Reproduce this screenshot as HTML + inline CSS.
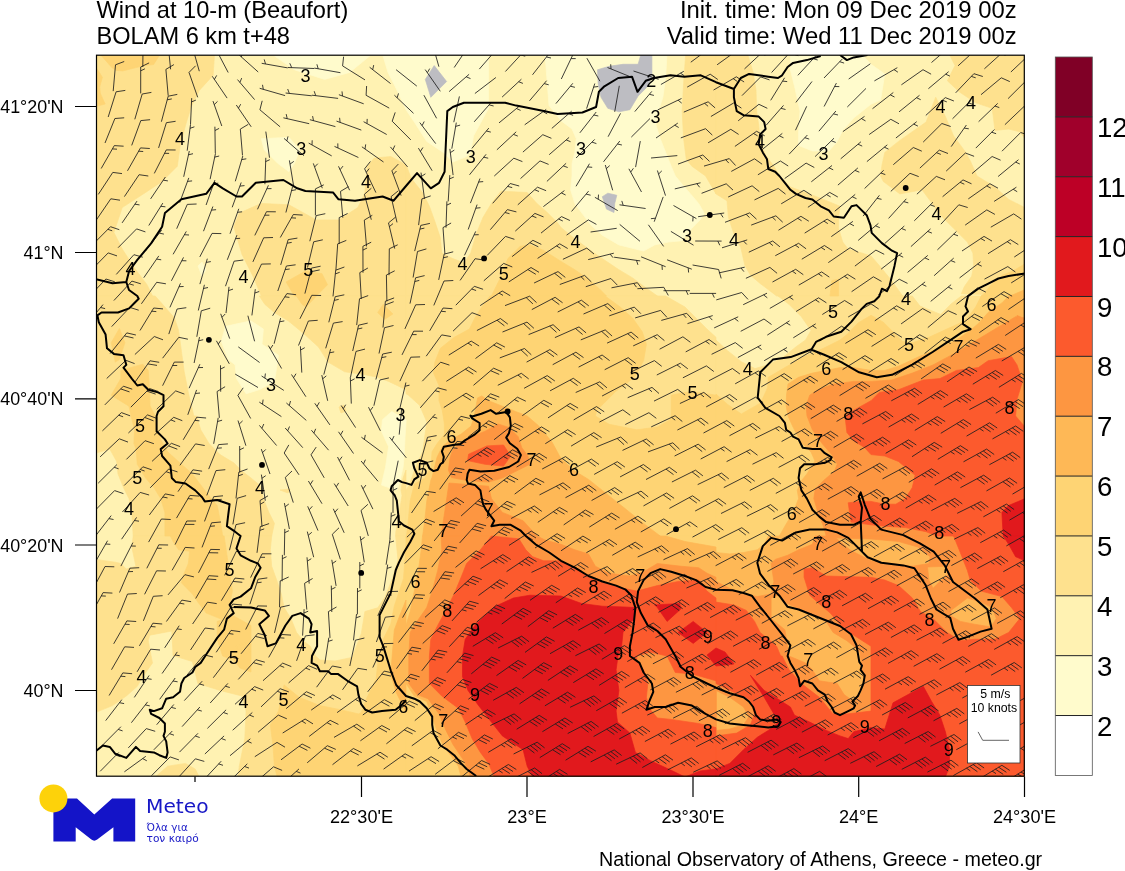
<!DOCTYPE html><html><head><meta charset="utf-8"><title>Wind at 10-m (Beaufort)</title>
<style>html,body{margin:0;padding:0;background:#fff;width:1125px;height:871px;overflow:hidden}svg{display:block;font-family:"Liberation Sans",Arial,Helvetica,sans-serif}</style></head><body>
<svg width="1125" height="871" viewBox="0 0 1125 871">
<defs><clipPath id="mc"><rect x="96.5" y="55.2" width="927.8" height="721"/></clipPath></defs>
<g font-size="23.6" fill="#000" id="ttl">
<text x="96.5" y="17.8">Wind at 10-m (Beaufort)</text>
<text x="96.5" y="44">BOLAM 6 km t+48</text>
<text x="1016.6" y="17.8" text-anchor="end" font-size="23.85">Init. time: Mon 09 Dec 2019 00z</text>
<text x="1016.6" y="44" text-anchor="end" font-size="23.85">Valid time: Wed 11 Dec 2019 00z</text>
</g>
<g clip-path="url(#mc)">
<rect x="96.5" y="55.2" width="927.8" height="721" fill="#fff2b2"/>
<path fill="#fffbcc" stroke="#fffbcc" stroke-width="0.7" stroke-linejoin="round" d="M371.6,54.5L349.5,72.5L324.7,79.4L294.4,69.8L272.4,54.5ZM382.6,54.5L488.6,54.5L488.6,108.3L473.5,135.9L470.7,152.4L466.6,156.6L452.8,162.1L443.2,152.4L426.7,141.4L414.3,122.1L406.0,109.7L396.4,89.0L388.0,72.5ZM261.3,138.7L288.9,137.3L299.9,149.7L294.4,163.5L288.9,171.7L277.9,163.5L264.1,149.7ZM198.0,266.0L202.0,262.0L206.0,270.0L202.0,276.0ZM667.0,54.5L665.7,76.7L662.9,97.3L657.4,113.9L656.0,124.9L660.2,138.6L665.7,152.4L671.2,166.2L675.3,176.0L682.2,184.3L690.5,193.9L698.7,203.5L704.3,213.2L700.1,220.0L691.9,228.3L682.2,240.7L668.4,242.1L654.7,244.9L643.6,251.1L618.9,244.9L602.3,235.2L591.3,225.6L583.0,214.6L574.8,203.5L570.6,189.8L572.0,176.0L572.0,163.5L574.8,152.4L576.2,138.6L572.0,129.0L561.0,120.7L549.0,105.6L545.0,54.5ZM790.4,54.5L862.0,54.5L871.0,64.3L884.8,73.9L880.6,100.1L871.0,104.2L867.5,107.0L853.7,118.0L842.7,130.4L837.2,141.4L829.0,151.0L812.4,151.0L798.6,145.5L798.6,131.8L800.0,111.1L794.5,86.3L790.4,69.8ZM225.5,326.3L251.0,320.8L263.4,329.1L262.0,344.2L278.5,355.2L275.8,373.1L274.4,381.4L259.3,389.7L246.1,393.8L236.5,378.6L235.1,364.9L228.2,359.4L221.3,341.5ZM382.4,419.8L391.7,411.5L406.2,419.8L405.1,436.3L404.1,457.0L403.1,467.3L398.9,485.0L397.0,490.0L390.0,488.0L381.4,485.0L385.5,467.3L388.6,446.7L381.4,431.2Z"/>
<path fill="#fee18e" stroke="#fee18e" stroke-width="0.7" stroke-linejoin="round" d="M95.5,54.5L214.5,54.5L213.1,75.3L199.3,90.4L191.1,107.0L185.6,124.9L180.0,146.9L177.3,166.2L162.1,181.4L145.6,192.4L122.2,207.6L113.9,232.4L122.2,248.9L134.6,268.2L147.0,284.7L152.5,296.0L95.5,296.0ZM233.8,226.8L239.3,213.1L261.3,203.4L288.9,204.8L316.4,220.0L338.5,220.0L357.8,207.6L364.7,193.8L367.4,166.2L374.3,158.0L390.9,156.6L406.0,164.8L406.0,296.0L261.3,296.0L253.1,276.4L242.0,254.4ZM685.7,54.5L716.0,54.5L716.0,193.9L705.6,176.0L691.9,166.2L686.3,159.3L683.6,138.6L682.2,111.0L683.6,83.5ZM406.0,164.8L411.5,178.8L422.5,192.5L429.4,206.3L434.9,221.5L440.4,238.0L441.8,253.1L452.8,258.6L463.9,262.8L470.7,253.1L476.2,233.9L483.1,217.3L491.4,203.5L501.0,191.2L527.2,192.5L536.9,203.5L546.5,211.8L557.5,222.8L561.0,227.5L572.0,236.6L588.5,249.0L602.3,258.6L618.9,269.7L632.6,277.9L643.6,286.2L657.4,296.0L406.0,296.0ZM716.0,54.5L747.7,54.5L753.2,72.5L756.0,90.4L756.6,111.1L758.7,124.9L760.1,141.4L765.6,155.2L773.9,166.2L779.4,176.0L790.4,187.0L805.5,192.5L823.4,199.4L840.0,206.3L838.6,217.3L838.6,228.3L842.7,242.1L848.2,249.0L862.0,253.1L871.0,255.9L879.3,265.5L891.7,280.7L902.7,296.0L776.6,296.0L771.1,291.7L760.1,283.4L750.4,275.2L744.9,265.5L740.8,247.6L733.9,233.9L728.4,217.3L727.0,200.8L716.0,193.9ZM1025.0,54.5L1025.0,138.6L1019.8,131.8L1008.7,129.0L995.0,130.4L992.2,108.3L975.7,102.8L959.2,91.8L947.4,80.8L955.0,65.6L949.5,54.5ZM884.8,152.4L898.5,141.4L926.1,122.1L935.7,97.3L945.4,116.6L953.6,135.9L964.7,151.0L970.2,160.7L977.0,176.0L995.0,187.0L1008.7,199.4L1025.0,207.7L1025.0,296.0L961.3,293.7L964.4,286.5L971.7,276.2L973.7,265.8L972.9,253.1L967.4,242.1L953.6,228.3L939.9,214.6L930.2,200.8L922.0,189.8L899.9,193.9L894.4,189.8L883.4,181.5L880.6,176.0L882.0,165.0ZM95.5,296.0L155.2,296.0L164.9,307.0L174.5,318.0L178.6,330.4L181.4,351.1L184.2,371.8L188.3,392.4L193.8,416.0L196.6,416.0L200.7,429.8L209.0,443.5L220.0,454.6L233.7,462.8L242.0,471.1L251.0,478.0L259.3,484.9L263.4,498.6L268.9,512.4L274.4,523.4L271.7,536.0L133.2,536.0L131.8,512.4L129.0,498.6L123.5,487.6L118.0,473.9L116.7,461.5L109.8,449.1L95.5,453.2ZM259.3,296.0L406.0,296.0L406.0,389.7L388.7,381.4L377.7,377.3L363.9,374.5L344.7,371.8L328.1,362.1L318.5,347.0L303.3,333.2L288.2,320.8L274.4,312.5L264.8,304.3ZM406.0,536.0L395.6,536.0L395.8,531.7L397.9,521.3L402.0,495.5L401.0,490.0L403.0,478.0L406.0,470.0ZM339.0,407.0L344.0,405.0L346.0,411.0L341.0,413.0ZM280.0,490.0L290.0,489.0L288.0,493.0ZM406.0,296.0L665.7,296.0L685.0,307.0L698.7,320.8L707.0,329.1L716.0,337.3L716.0,536.0L406.0,536.0L406.0,490.0L409.3,485.0L415.5,467.3L422.7,451.8L424.8,436.3L426.8,421.9L419.6,405.3L408.2,395.0L406.0,393.8ZM1025.0,296.0L1025.0,536.0L716.0,536.0L716.0,340.1L727.6,350.7L741.3,361.7L755.1,368.6L768.9,364.4L782.7,357.6L796.4,346.5L805.5,340.1L811.0,330.4L801.4,316.7L789.0,304.3L778.0,296.0L912.3,296.0L920.0,306.1L930.3,310.2L940.7,314.4L951.0,304.0L961.3,296.0ZM95.5,559.4L115.3,562.2L120.8,563.5L126.3,569.1L135.9,566.3L131.8,547.0L133.2,536.0L271.7,536.0L270.3,549.8L271.7,566.3L277.2,581.5L281.3,593.9L284.1,607.6L291.0,618.6L296.5,632.4L303.3,640.7L310.2,646.2L315.7,656.0L320.0,660.0L335.0,661.0L352.1,657.4L361.3,633.5L364.9,611.5L377.8,607.8L385.1,596.8L392.5,578.4L398.0,560.0L395.6,536.0L406.0,536.0L406.0,777.0L95.5,777.0ZM406.0,536.0L1025.0,536.0L1025.0,777.0L406.0,777.0ZM95.5,777.0L155.2,777.0L167.6,766.2L185.5,763.4L195.2,769.0L199.3,777.0L237.9,777.0L239.3,766.2L244.8,738.6L246.1,711.1L242.0,696.0L220.0,690.4L197.9,683.5L192.4,661.5L174.5,656.0L173.1,656.0L171.8,631.0L149.7,635.2L148.3,640.7L151.1,656.0L152.5,662.9L142.8,676.7L137.3,686.3L126.3,696.0L112.5,705.6L95.5,712.5Z"/>
<path fill="#fed474" stroke="#fed474" stroke-width="0.7" stroke-linejoin="round" d="M100.3,54.5L160.0,54.5L153.6,64.5L144.0,65.6L122.7,70.9L116.3,70.4L112.0,67.7ZM95.5,68.8L97.0,68.8L102.4,77.3L99.7,86.9L100.3,93.3L105.1,104.0L97.0,106.1L95.5,106.1ZM286.1,282.0L305.4,271.0L322.0,273.7L327.5,284.7L316.4,296.0L306.1,307.0L302.0,304.3L296.5,296.0L294.4,296.0ZM507.9,258.6L520.3,246.2L530.0,244.9L543.7,250.4L561.0,261.4L574.8,269.7L588.5,279.3L599.6,289.0L606.5,296.0L491.4,296.0L499.7,279.3ZM831.7,280.7L838.6,279.0L838.6,296.0L830.0,296.0ZM1025.0,296.0L981.2,296.0L984.0,293.7L992.3,283.4L1002.6,275.1L1013.0,271.0L1025.0,263.8ZM119.4,328.4L124.9,342.8L119.4,359.4L115.3,362.1L111.2,342.8ZM120.8,370.4L142.8,364.2L148.3,370.4L149.7,392.4L150.0,406.0L155.2,416.0L156.6,427.0L160.7,439.4L167.6,451.8L181.4,464.2L192.4,473.9L200.7,484.9L209.0,495.9L217.2,505.5L220.0,519.3L222.7,536.0L164.9,536.0L164.9,512.4L160.7,498.6L153.9,487.6L145.6,478.0L137.3,464.2L136.0,449.1L133.9,443.5L134.6,429.8L131.0,416.0L129.0,406.2L111.2,395.2L120.8,378.6ZM383.2,304.3L392.9,313.9L384.6,319.4L377.7,312.5ZM490.0,296.0L605.1,296.0L620.2,307.0L632.6,318.0L642.3,331.8L646.4,344.2L643.6,360.7L635.4,375.9L625.7,384.2L616.1,391.0L606.5,400.7L596.8,410.3L595.4,416.0L609.2,424.3L636.8,429.8L657.4,427.0L669.8,420.1L671.2,416.0L671.2,395.2L685.0,392.4L698.7,392.4L716.0,395.2L716.0,536.0L406.5,536.0L408.2,521.3L410.2,500.7L414.4,484.0L425.0,478.0L431.0,467.3L432.0,451.8L437.1,443.6L444.4,434.3L444.4,423.9L442.3,410.5L439.0,400.7L439.0,385.5L433.5,373.1L434.9,362.1L440.4,348.3L454.2,337.3L469.4,329.1L474.9,318.0L481.8,307.0ZM716.0,394.0L727.6,404.4L741.3,414.0L760.6,403.0L767.5,387.9L768.3,377.3L784.9,367.6L804.1,356.6L823.4,348.3L840.0,340.1L846.9,334.6L858.0,323.0L871.0,315.3L883.4,322.2L894.4,333.2L902.7,341.5L912.3,342.8L928.9,337.3L946.8,329.1L959.2,323.5L967.4,318.0L975.7,307.0L981.2,296.0L1025.0,296.0L1025.0,536.0L716.0,536.0ZM170.4,536.0L224.1,536.0L228.2,563.5L232.4,591.1L231.0,598.0L228.2,611.8L226.9,621.4L220.0,618.6L206.2,613.1L197.9,602.1L192.4,593.9L181.4,582.8L184.2,573.2L188.3,563.5L189.7,551.2L178.6,549.8L173.1,541.5ZM217.2,621.4L233.7,615.9L251.0,625.5L251.0,672.0L240.0,668.0L233.7,660.0L222.7,656.0L217.2,639.3ZM406.0,777.0L277.2,777.0L274.4,766.2L273.0,745.5L270.3,724.9L278.5,711.1L284.1,684.9L299.2,697.3L319.9,705.6L340.5,709.7L358.4,713.9L361.3,712.6L366.8,697.9L376.0,679.5L378.0,661.0L383.3,639.0L390.7,624.3L394.3,606.0L403.5,578.4L406.0,545.0ZM236.0,646.0L246.0,643.0L250.0,652.0L240.0,655.0ZM406.0,536.0L1025.0,536.0L1025.0,777.0L406.0,777.0Z"/>
<path fill="#feb856" stroke="#feb856" stroke-width="0.7" stroke-linejoin="round" d="M1025.0,296.0L1008.7,296.0L1013.0,294.8L1025.0,289.6ZM477.6,397.9L481.8,395.9L488.6,400.7L502.4,406.2L516.2,411.7L527.2,416.0L538.3,425.5L552.0,442.0L561.0,458.7L574.8,471.1L588.5,479.4L602.3,490.4L616.1,501.4L629.9,512.4L643.6,523.4L660.2,536.0L422.6,536.0L424.7,521.3L426.8,500.7L430.9,480.0L432.0,477.6L437.1,457.0L442.3,446.7L449.5,440.5L460.9,434.3L471.2,426.0L474.3,415.7ZM788.0,384.0L798.6,377.3L812.4,373.1L826.2,370.4L840.0,367.6L853.7,367.6L871.0,370.4L884.8,370.4L898.5,366.2L919.2,356.6L939.9,348.3L956.4,340.1L970.2,330.4L978.4,323.5L988.1,312.5L1001.9,302.9L1008.7,296.0L1025.0,296.0L1025.0,536.0L779.4,536.0L784.9,526.2L793.1,512.4L798.6,498.6L797.3,490.4L801.4,480.7L806.9,473.9L815.0,461.0L811.0,452.0L801.0,442.0L793.0,427.0L788.0,416.0L786.2,406.2L786.5,395.0ZM406.0,712.0L403.5,707.1L396.2,692.4L390.7,674.0L392.5,651.9L394.3,629.9L399.9,615.1L406.0,600.0ZM422.5,536.0L665.7,536.0L685.0,541.5L716.0,547.0L716.0,777.0L461.1,777.0L458.3,766.2L451.5,756.6L443.2,745.5L437.7,733.1L432.2,716.6L426.7,701.5L414.3,696.0L406.0,683.5L406.0,625.5L410.1,611.8L414.3,591.1L418.4,570.4L421.2,549.8ZM768.3,536.0L1025.0,536.0L1025.0,777.0L716.0,777.0L716.0,552.5L729.8,553.9L743.5,552.5L757.3,549.8L764.2,544.3Z"/>
<path fill="#fd9641" stroke="#fd9641" stroke-width="0.7" stroke-linejoin="round" d="M1017.1,315.4L1024.3,318.5L1025.0,330.0L1016.0,326.0ZM450.2,456.9L453.0,449.6L460.3,443.2L471.3,436.7L485.1,431.2L498.0,423.9L509.0,427.5L518.2,436.7L521.8,447.7L528.0,456.0L530.0,464.2L516.2,471.1L502.4,478.0L488.6,482.1L468.0,480.7L451.5,477.6L448.4,470.0ZM449.0,483.0L488.6,486.2L491.4,498.6L502.4,512.4L523.1,520.7L536.9,536.0L441.0,536.0L443.3,521.3L446.4,500.7ZM809.7,395.2L817.9,389.7L833.1,384.2L853.7,381.4L871.0,381.4L891.7,380.0L912.3,373.1L933.0,364.9L953.6,353.9L974.3,341.5L995.0,329.1L1015.6,316.7L1025.0,318.0L1025.0,536.0L826.2,536.0L823.4,526.2L817.9,512.4L813.8,498.6L815.2,489.0L823.4,480.7L834.5,471.1L837.2,464.2L831.7,454.6L822.1,443.5L812.4,429.8L807.0,416.0L806.0,406.0ZM441.0,536.0L537.0,536.0L545.0,540.0L561.0,544.3L574.8,549.8L588.5,553.9L595.4,566.3L609.2,573.2L629.9,576.0L643.6,571.8L657.4,563.5L681.6,566.3L698.7,567.7L707.0,573.2L716.0,577.3L716.0,777.0L470.7,777.0L463.9,760.7L452.8,744.2L446.0,730.4L439.0,713.9L428.0,698.7L417.0,694.6L408.8,683.5L408.8,656.0L410.1,632.4L417.0,621.4L426.7,607.6L432.2,591.1L437.7,570.4L441.8,549.8ZM815.2,536.0L1025.0,536.0L1025.0,777.0L716.0,777.0L716.0,581.5L729.8,588.4L743.5,593.9L757.3,596.6L771.1,593.9L773.9,581.5L771.1,563.5L775.2,559.4L787.6,555.3L798.6,549.8L812.4,544.3ZM850.0,550.0L871.0,560.8L891.7,563.5L912.3,566.3L928.9,563.5L930.2,556.7L917.8,547.0L898.5,541.5L871.0,539.0L836.0,538.0ZM928.9,580.1L933.0,588.3L939.9,581.5L948.1,574.6L945.4,566.3L927.5,567.0ZM771.1,618.6L784.9,629.7L787.6,646.2L789.0,656.0L805.5,662.9L812.4,669.8L819.3,680.8L837.2,683.5L844.1,694.6L853.7,701.5L859.3,697.3L864.8,683.5L862.0,669.8L860.0,652.0L853.7,646.2L846.9,640.7L833.1,632.4L826.2,621.4L805.5,611.8L790.4,604.9L784.9,602.1L778.0,595.2L771.1,598.0ZM950.9,615.9L960.5,621.4L974.3,624.2L990.8,626.9L996.3,618.6L992.2,607.6L981.2,602.1L967.4,598.0L950.9,610.4ZM716.0,730.4L729.8,729.0L743.5,724.9L749.0,716.6L743.5,707.0L729.8,697.3L716.0,690.4Z"/>
<path fill="#fc5a2d" stroke="#fc5a2d" stroke-width="0.7" stroke-linejoin="round" d="M468.6,454.2L486.9,445.9L503.5,445.0L510.8,456.0L503.5,466.1L485.1,464.3L467.6,460.6ZM845.0,416.0L853.7,410.3L871.0,400.7L879.3,392.4L898.5,389.7L923.3,380.0L939.9,378.6L956.4,370.4L978.4,367.6L988.1,360.7L1011.5,356.6L1017.0,364.9L1022.5,381.4L1017.0,399.3L1015.6,416.0L1025.0,427.0L1025.0,536.0L937.1,536.0L926.1,531.7L905.4,527.6L884.8,526.2L871.0,524.8L851.0,522.1L848.2,502.8L860.6,501.4L871.0,501.4L884.8,504.2L895.8,504.2L905.4,498.6L912.3,487.6L915.1,475.2L898.5,461.5L884.8,456.0L871.0,454.6L864.8,447.7L853.7,440.8L846.9,432.5ZM491.4,536.0L518.9,538.8L525.8,549.8L532.7,556.7L543.7,560.8L561.0,560.8L574.8,567.7L588.5,577.3L602.3,582.8L623.0,588.3L636.8,591.1L657.4,585.6L678.1,581.5L698.7,580.1L707.0,591.1L716.0,598.0L716.0,680.8L691.9,673.9L675.3,672.5L667.1,656.0L650.0,652.0L636.8,656.0L636.8,660.1L643.6,669.8L647.8,683.5L646.4,697.3L649.2,708.3L657.4,718.0L671.2,719.4L698.7,723.5L716.0,727.6L716.0,777.0L494.2,777.0L488.6,763.4L480.4,752.4L472.1,738.6L465.2,722.1L458.3,708.3L441.8,696.0L429.4,683.5L429.4,656.0L430.8,639.3L437.7,625.5L447.3,607.6L454.2,593.9L461.1,577.3L466.6,563.5L480.4,549.8ZM953.6,536.0L1025.0,536.0L1025.0,777.0L716.0,777.0L716.0,735.9L736.7,733.1L750.4,724.9L754.6,713.9L750.4,700.1L729.8,690.4L716.0,683.5L716.0,602.1L733.9,604.9L746.3,610.4L754.6,621.4L760.1,632.4L776.6,646.2L780.7,656.0L782.1,656.0L789.0,669.8L801.4,683.5L819.3,697.3L833.1,713.9L846.9,713.9L871.0,711.1L871.0,646.2L853.7,635.2L840.0,624.2L830.3,613.1L820.7,604.9L809.7,595.2L804.1,577.3L804.1,569.1L812.4,567.7L826.2,576.0L871.0,577.3L884.8,580.1L898.5,585.6L912.3,598.0L920.6,611.8L933.0,618.6L946.8,632.4L960.5,640.7L974.3,639.3L995.0,639.3L1008.7,632.4L1019.8,618.6L1011.5,607.6L1001.9,596.6L981.2,591.1L970.2,580.1L967.4,570.4L959.2,549.8Z"/>
<path fill="#e1191d" stroke="#e1191d" stroke-width="0.7" stroke-linejoin="round" d="M1001.9,512.4L1008.7,505.5L1025.0,498.6L1025.0,536.0L1003.2,536.0ZM462.5,656.0L465.2,639.3L474.9,625.5L483.1,617.3L495.5,606.2L513.4,598.0L530.0,595.2L561.0,596.0L581.7,603.5L602.3,606.2L623.0,606.9L635.4,607.6L634.0,618.6L623.0,632.4L621.6,646.2L618.0,656.0L616.1,669.8L618.9,690.4L616.1,711.1L617.5,722.1L629.9,733.1L635.4,752.4L650.5,760.7L671.2,770.3L685.0,777.0L532.7,777.0L527.2,766.2L523.1,749.7L502.4,735.9L491.4,722.1L477.6,704.2L468.0,690.4L462.5,676.7ZM654.7,604.9L679.5,603.5L680.8,609.0L667.1,621.4L657.4,607.6ZM678.1,632.4L693.2,621.4L707.0,632.4L693.2,643.4ZM707.0,655.0L716.0,648.0L725.0,652.0L734.0,664.0L716.0,666.0ZM1003.2,536.0L1025.0,536.0L1025.0,560.8L1015.6,556.7L1008.7,544.3ZM750.4,675.3L764.2,690.4L775.2,697.3L790.4,707.0L794.5,715.2L809.7,722.1L826.2,730.4L840.0,735.9L848.2,738.6L853.7,731.8L864.8,729.0L871.0,727.6L884.8,729.0L893.0,702.8L923.3,686.3L931.6,701.5L939.9,715.2L945.4,731.8L949.5,749.7L949.5,766.2L945.4,777.0L716.0,777.0L716.0,768.9L729.8,763.4L743.5,749.7L757.3,737.3L768.3,730.4L779.4,722.1L773.9,713.9L764.2,697.3ZM685.0,777.0L700.0,771.0L716.0,768.9L716.0,777.0Z"/>
<path fill="#bdbdc2" stroke="#bdbdc2" stroke-width="0.7" stroke-linejoin="round" d="M434.2,65.6L446.6,81.5L430.8,97.3L425.3,79.4ZM597.5,69.8L609.2,66.3L623.0,64.3L638.1,64.3L640.9,54.5L651.9,54.5L651.9,76.7L646.4,87.7L638.1,96.0L629.9,109.7L618.9,111.8L607.8,108.3L601.0,97.3L598.2,83.5ZM602.3,196.7L607.8,193.2L616.8,195.3L614.7,203.5L614.0,212.5L606.5,209.1Z"/>
<path fill="none" stroke="#1e1e1e" stroke-width="0.85" stroke-linecap="butt" d="M931.5,62.5L951.5,45.3M951.5,45.3l8.5,3.7M958.1,65.8L977.6,48.0M977.6,48.0l8.7,3.4M984.4,68.8L1004.0,51.1M1004.0,51.1l8.6,3.5M1001.2,53.6l4.3,1.7M1010.9,72.0L1030.1,53.9M1030.1,53.9l8.7,3.3M690.8,62.2L712.1,46.4M709.0,48.7l4.1,2.1M717.1,64.8L738.5,49.4M738.5,49.4l8.2,4.4M744.5,68.9L763.8,50.9M761.0,53.5l4.3,1.7M771.6,72.5L789.4,53.0M789.4,53.0l8.9,2.6M797.9,75.3L815.8,55.9M813.2,58.7l4.5,1.3M824.0,78.0L842.3,59.0M839.7,61.7l4.4,1.4M848.7,79.0L870.3,63.8M874.4,80.9L897.3,67.7M894.0,69.6l3.9,2.6M901.4,84.8L923.0,69.7M923.0,69.7l8.1,4.5M928.4,88.7L948.6,71.7M945.7,74.2l4.2,1.9M955.7,92.8L973.9,73.7M973.9,73.7l8.9,2.8M971.3,76.4l4.4,1.4M981.0,94.7L1001.3,77.8M1001.3,77.8l8.5,3.8M1008.1,98.6L1026.8,80.0M1026.8,80.0l8.8,3.0M1024.1,82.6l4.4,1.5M438.9,66.7L431.7,41.3M432.7,45.0l3.5,-3.1M454.2,67.5L469.0,45.7M466.9,48.8l4.6,0.7M479.3,69.1L496.7,49.2M505.4,71.5L523.3,52.1M520.7,54.9l4.5,1.3M532.5,74.8L548.8,54.0M546.5,57.0l4.5,1.0M561.3,79.0L572.7,55.1M571.1,58.6l4.6,-0.0M599.9,81.2L586.9,58.2M631.9,77.4L607.5,67.5M611.0,68.9l-0.3,-4.6M658.6,79.3L633.5,71.0M660.9,84.5L683.8,71.3M680.5,73.2l3.9,2.6M687.2,87.1L710.2,74.2M710.2,74.2l7.6,5.3M713.6,90.0L736.4,76.8M736.4,76.8l7.7,5.2M733.2,78.7l3.9,2.6M742.0,95.6L760.7,76.9M760.7,76.9l8.8,3.0M770.7,100.3L784.6,77.8M782.6,81.1l4.6,0.5M795.9,102.4L812.0,81.5M824.1,106.5L836.4,83.1M834.7,86.5l4.6,0.1M847.3,107.0L866.0,88.4M872.5,108.7L893.3,92.5M890.3,94.9l4.2,2.1M899.0,111.9L919.5,95.3M916.5,97.7l4.2,2.0M925.8,115.4L945.3,97.6M945.3,97.6l8.6,3.4M942.5,100.2l4.3,1.7M952.5,118.8L971.2,100.2M968.5,102.9l4.4,1.5M978.6,121.7L997.7,103.4M994.9,106.0l4.4,1.6M1004.9,124.7L1024.0,106.5M1024.0,106.5l8.7,3.2M142.8,67.0L143.1,40.6M143.1,44.4l4.2,-2.0M170.6,69.3L168.0,43.0M168.0,43.0l7.9,-4.9M168.4,46.8l4.0,-2.4M199.3,71.2L192.1,45.8M192.1,45.8l6.9,-6.2M228.2,72.5L215.9,49.1M215.9,49.1l5.5,-7.5M258.2,72.0L238.5,54.4M241.4,56.9l1.3,-4.5M287.7,67.9L261.7,63.3M265.5,63.9l-1.3,-4.5M314.3,68.5L287.9,67.5M291.7,67.6l-1.9,-4.3M340.4,72.7L314.4,68.1M318.2,68.8l-1.3,-4.5M365.0,79.9L342.6,65.9M342.6,65.9l1.0,-9.2M390.5,83.5L369.7,67.3M372.7,69.6l1.0,-4.5M416.8,86.1L396.1,69.7M440.3,91.3L425.2,69.6M427.4,72.7l2.3,-4.1M449.1,91.6L469.1,74.3M466.2,76.8l4.3,1.8M474.9,93.5L495.9,77.5M502.1,97.1L521.4,79.2M518.6,81.7l4.3,1.7M529.5,100.8L546.6,80.7M544.2,83.6l4.5,1.2M555.9,103.6L572.8,83.3M570.4,86.2l4.5,1.1M586.6,108.6L594.8,83.5M593.6,87.1l4.6,-0.6M614.7,111.8L619.3,85.8M634.8,111.6L651.8,91.4M649.4,94.3l4.5,1.1M657.7,109.9L681.5,98.5M678.1,100.2l3.6,2.9M683.8,112.1L708.1,101.8M708.1,101.8l7.0,6.1M704.6,103.3l3.5,3.0M710.9,116.5L733.6,103.0M733.6,103.0l7.8,5.1M738.2,120.8L758.9,104.3M758.9,104.3l8.4,4.0M766.1,125.3L783.5,105.4M781.0,108.3l4.5,1.2M795.5,130.2L806.7,106.3M818.9,131.2L835.9,111.0M833.5,113.9l4.5,1.1M842.9,131.6L864.5,116.4M861.4,118.6l4.1,2.3M869.2,134.5L890.8,119.3M890.8,119.3l8.2,4.5M895.9,138.0L916.7,121.7M913.7,124.1l4.2,2.0M923.2,142.1L941.9,123.5M941.9,123.5l8.8,3.0M951.2,146.6L966.4,125.0M964.2,128.1l4.6,0.7M975.8,148.1L994.4,129.5M991.7,132.2l4.4,1.5M1002.0,151.2L1020.7,132.5M1020.7,132.5l8.8,3.0M113.2,91.1L115.5,64.8M115.5,64.8l8.7,-3.3M140.7,93.4L140.7,67.0M140.7,67.0l8.4,-4.1M140.7,70.8l4.2,-2.0M168.2,95.7L165.9,69.4M165.9,69.4l8.0,-4.8M197.7,97.3L189.0,72.4M189.0,72.4l6.6,-6.6M227.1,98.1L212.3,76.3M214.4,79.4l2.3,-4.0M254.6,99.6L237.5,79.6M239.9,82.4l1.8,-4.3M285.1,95.6L259.7,88.3M263.3,89.4l-0.8,-4.6M311.8,95.8L285.6,93.0M289.3,93.4l-1.6,-4.4M338.1,98.4L311.9,95.2M315.7,95.6l-1.5,-4.4M363.7,103.8L338.9,94.7M342.5,96.0l-0.5,-4.6M389.2,108.1L366.1,95.3M366.1,95.3l0.5,-9.3M413.5,113.3L394.4,95.2M397.1,97.8l1.4,-4.4M436.6,118.3L423.9,95.2M453.8,122.2L459.4,96.4M474.2,121.8L491.6,102.0M489.1,104.8l4.5,1.2M499.0,122.9L519.4,106.1M516.4,108.5l4.2,1.9M524.7,124.8L546.2,109.4M543.1,111.7l4.1,2.2M551.8,128.4L571.7,111.1M568.8,113.6l4.3,1.8M579.9,132.8L596.2,112.0M593.8,115.0l4.5,1.0M608.1,136.7L620.5,113.4M631.3,137.1L650.0,118.5M656.0,138.0L677.8,123.1M674.7,125.2l4.0,2.3M680.8,137.9L705.6,128.7M705.6,128.7l6.7,6.4M708.1,142.8L730.8,129.3M730.8,129.3l7.8,5.1M734.9,146.4L756.6,131.3M756.6,131.3l8.1,4.5M753.5,133.5l4.1,2.3M761.7,149.9L782.3,133.4M779.3,135.8l4.2,2.0M789.2,154.1L807.4,135.0M804.8,137.7l4.4,1.4M815.1,156.6L834.0,138.2M831.3,140.8l4.4,1.6M840.7,158.8L860.9,141.8M858.0,144.2l4.2,1.9M866.9,161.6L887.3,144.8M884.3,147.2l4.2,1.9M893.3,164.7L913.3,147.5M913.3,147.5l8.5,3.7M919.9,168.1L939.3,150.1M939.3,150.1l8.7,3.4M936.5,152.7l4.3,1.7M946.2,171.1L965.4,153.0M965.4,153.0l8.7,3.3M972.0,173.6L992.1,156.5M992.1,156.5l8.5,3.7M998.1,176.5L1018.5,159.7M1015.6,162.1l4.2,1.9M108.2,117.0L116.1,91.8M116.1,91.8l9.2,-1.4M134.8,119.3L142.2,94.0M142.2,94.0l9.2,-1.6M161.4,121.7L168.2,96.2M168.2,96.2l9.1,-1.8M167.2,99.8l4.6,-0.9M190.5,124.4L191.7,98.1M191.6,101.9l4.3,-1.8M221.8,126.0L213.0,101.1M214.2,104.7l3.3,-3.3M251.2,126.8L236.3,105.0M238.4,108.2l2.3,-4.0M280.1,126.8L259.9,109.8M259.9,109.8l2.3,-9.0M309.2,123.7L283.4,117.8M287.2,118.6l-1.0,-4.5M335.4,126.6L309.9,119.7M313.5,120.7l-0.9,-4.6M361.3,130.1L336.5,121.1M340.1,122.4l-0.5,-4.6M386.7,134.5L363.6,121.7M367.0,123.5l0.2,-4.6M410.8,139.9L392.2,121.2M392.2,121.2l3.0,-8.8M435.7,143.6L419.8,122.6M422.1,125.6l2.1,-4.1M451.8,148.7L456.3,122.6M455.6,126.4l4.5,-1.3M471.9,148.4L488.8,128.1M486.3,131.0l4.5,1.1M496.9,149.8L516.2,131.8M513.5,134.4l4.3,1.7M522.9,152.1L542.8,134.7M542.8,134.7l8.6,3.6M549.2,154.7L569.1,137.4M566.2,139.9l4.3,1.8M576.1,158.0L594.7,139.4M592.0,142.1l4.4,1.5M603.5,161.8L619.8,141.0M617.4,144.0l4.5,1.0M635.6,167.1L640.3,141.1M651.0,158.0L677.3,155.6M678.0,164.1L702.8,155.0M702.8,155.0l6.7,6.4M699.3,156.3l3.4,3.2M704.0,166.1L729.3,158.6M729.3,158.6l6.3,6.9M725.7,159.7l3.1,3.4M731.3,171.4L754.5,158.8M754.5,158.8l7.6,5.4M757.9,174.8L780.4,161.0M780.4,161.0l7.8,5.0M784.7,178.5L806.1,163.1M806.1,163.1l8.2,4.4M811.3,181.8L832.0,165.5M829.0,167.8l4.2,2.0M837.9,185.1L857.9,167.9M855.0,170.4l4.3,1.8M864.6,188.5L883.7,170.3M880.9,173.0l4.4,1.6M890.8,191.4L910.0,173.3M910.0,173.3l8.7,3.3M916.9,194.2L936.3,176.4M936.3,176.4l8.7,3.4M942.6,196.7L963.0,179.9M963.0,179.9l8.5,3.9M960.1,182.3l4.2,1.9M968.3,198.9L989.9,183.7M989.9,183.7l8.1,4.5M986.7,185.9l4.1,2.2M994.1,201.4L1016.4,187.2M1013.2,189.3l4.0,2.4M105.0,143.0L114.9,118.5M114.9,118.5l9.3,-0.7M131.7,145.4L140.8,120.6M140.8,120.6l9.3,-0.9M158.6,147.9L166.4,122.7M166.4,122.7l9.2,-1.4M187.2,150.7L190.5,124.5M190.0,128.3l4.4,-1.5M215.3,153.1L214.9,126.7M215.0,130.5l4.1,-2.1M242.5,155.4L240.3,129.1M240.3,129.1l8.0,-4.8M269.5,157.7L265.8,131.6M303.9,155.7L284.0,138.4M286.8,140.9l1.2,-4.5M331.7,155.9L308.7,143.1M312.0,144.9l0.2,-4.6M358.4,157.5L334.5,146.4M337.9,148.0l-0.1,-4.6M383.5,162.0L361.9,146.8M365.0,149.0l0.7,-4.6M407.6,166.9L390.4,146.9M392.9,149.8l1.9,-4.3M432.1,170.7L418.4,148.1M420.4,151.4l2.5,-3.9M453.1,175.1L449.9,148.9M450.4,152.6l3.9,-2.5M469.5,174.8L486.1,154.3M483.7,157.2l4.5,1.0M494.3,176.0L513.8,158.2M513.8,158.2l8.6,3.4M520.5,178.6L540.0,160.9M540.0,160.9l8.6,3.5M546.9,181.4L566.1,163.3M563.3,165.9l4.4,1.6M576.0,186.3L589.5,163.7M587.6,166.9l4.6,0.4M612.7,190.3L605.3,165.0M606.3,168.7l3.4,-3.1M641.5,192.0L628.9,168.8M630.7,172.1l2.7,-3.8M665.5,195.6L657.4,170.5M658.5,174.1l3.3,-3.2M674.8,188.9L700.5,182.8M696.8,183.7l2.9,3.6M701.6,193.3L726.2,183.8M726.2,183.8l6.8,6.3M728.2,197.0L752.1,185.8M752.1,185.8l7.2,5.8M754.5,199.9L778.2,188.4M778.2,188.4l7.3,5.7M781.2,203.8L803.9,190.3M803.9,190.3l7.8,5.1M807.9,207.3L829.7,192.4M829.7,192.4l8.1,4.6M826.6,194.6l4.0,2.3M834.8,211.2L855.2,194.4M852.3,196.8l4.2,1.9M863.1,216.1L879.4,195.3M877.0,198.3l4.5,1.0M888.6,218.4L906.3,198.8M903.8,201.6l4.5,1.3M914.3,220.8L933.0,202.2M930.3,204.9l4.4,1.5M940.9,224.2L958.8,204.8M958.8,204.8l8.9,2.7M965.2,225.1L986.8,209.9M986.8,209.9l8.1,4.5M990.8,227.2L1013.7,213.9M1013.7,213.9l7.7,5.2M101.2,168.5L114.3,145.6M114.3,145.6l9.3,0.6M112.4,148.9l4.6,0.3M127.5,170.8L140.5,147.9M140.5,147.9l9.3,0.6M138.6,151.2l4.6,0.3M154.3,173.4L166.3,149.9M166.3,149.9l9.3,0.1M164.5,153.3l4.6,0.1M183.7,176.8L189.3,151.0M188.5,154.8l4.5,-1.1M210.1,179.2L215.5,153.3M214.7,157.1l4.5,-1.1M235.3,181.3L242.8,156.0M241.7,159.6l4.6,-0.8M264.9,184.2L265.8,157.8M265.6,161.6l4.2,-1.9M293.7,186.4L289.4,160.4M290.0,164.1l3.8,-2.7M322.3,188.2L313.3,163.4M314.6,167.0l3.2,-3.3M349.6,190.2L338.5,166.3M340.1,169.7l2.9,-3.6M375.9,192.6L364.6,168.8M364.6,168.8l5.8,-7.3M366.3,172.2l2.9,-3.6M401.1,195.6L391.9,170.8M391.9,170.8l6.4,-6.7M393.3,174.4l3.2,-3.4M424.5,198.8L421.0,172.6M421.5,176.4l3.9,-2.6M448.2,201.4L449.8,175.1M449.5,178.9l4.3,-1.8M470.4,203.1L480.0,178.5M478.6,182.0l4.6,-0.4M492.7,203.3L510.2,183.5M510.2,183.5l9.0,2.5M507.7,186.4l4.5,1.2M517.8,204.8L537.5,187.2M537.5,187.2l8.6,3.5M534.7,189.7l4.3,1.8M543.4,206.6L564.4,190.6M561.4,192.9l4.2,2.1M571.6,211.4L588.6,191.1M586.1,194.1l4.5,1.1M617.7,210.6L594.9,197.3M598.2,199.2l0.3,-4.6M645.6,208.5L619.5,204.8M623.2,205.3l-1.4,-4.4M663.2,196.9L654.2,221.7M655.5,218.2l-4.6,0.5M673.5,205.5L696.4,218.6M693.1,216.8l-0.3,4.6M698.1,216.7L724.2,213.0M720.5,213.5l2.6,3.9M725.0,222.3L749.7,212.9M749.7,212.9l6.8,6.3M746.1,214.3l3.4,3.2M751.2,225.1L775.9,215.8M775.9,215.8l6.8,6.4M772.3,217.1l3.4,3.2M778.5,230.2L800.9,216.3M800.9,216.3l7.9,4.9M797.7,218.3l3.9,2.5M804.7,233.1L827.1,219.1M827.1,219.1l7.9,4.9M823.9,221.1l3.9,2.5M831.3,236.6L852.9,221.4M849.8,223.6l4.1,2.2M858.2,240.4L878.4,223.4M875.5,225.8l4.3,1.9M884.7,243.6L904.3,226.0M901.5,228.5l4.3,1.7M910.9,246.6L930.5,228.9M927.6,231.4l4.3,1.7M937.4,249.9L956.4,231.5M953.6,234.2l4.4,1.6M962.0,251.0L984.0,236.4M984.0,236.4l8.0,4.7M980.9,238.5l4.0,2.3M988.0,253.7L1010.4,239.7M1010.4,239.7l7.9,4.9M1007.2,241.7l3.9,2.5M1014.3,257.0L1036.4,242.5M1033.2,244.6l4.0,2.4M98.3,194.4L112.8,172.4M112.8,172.4l9.2,1.2M124.4,196.6L139.1,174.7M139.1,174.7l9.2,1.3M150.6,198.9L165.4,177.0M163.3,180.2l4.6,0.7M179.7,202.6L188.8,177.9M187.5,181.4l4.6,-0.5M206.1,205.0L214.9,180.1M213.7,183.7l4.6,-0.5M232.2,207.3L241.2,182.5M239.9,186.1l4.6,-0.5M257.5,209.3L268.4,185.3M266.9,188.7l4.6,-0.1M285.9,212.5L292.5,186.9M291.5,190.6l4.6,-0.9M315.4,215.3L315.4,188.9M315.4,188.9l8.4,-4.1M342.8,217.7L340.5,191.4M340.5,191.4l8.0,-4.8M371.3,219.7L364.4,194.3M364.4,194.3l7.0,-6.1M397.0,222.4L391.1,196.6M391.1,196.6l7.2,-5.8M418.6,225.1L421.9,198.9M421.9,198.9l8.8,-3.0M446.0,227.7L446.9,201.3M446.8,205.1l4.2,-1.9M468.2,229.5L477.1,204.6M475.8,208.2l4.6,-0.5M490.3,229.7L507.4,209.6M507.4,209.6l9.0,2.3M505.0,212.5l4.5,1.2M515.3,231.1L534.9,213.4M534.9,213.4l8.6,3.5M532.1,216.0l4.3,1.7M541.0,233.1L561.5,216.6M561.5,216.6l8.4,3.9M558.6,219.0l4.2,2.0M566.6,235.1L588.3,219.9M588.3,219.9l8.1,4.5M590.6,232.0L616.7,228.3M619.7,224.4L640.0,241.3M648.4,224.8L663.6,246.4M670.9,231.4L693.5,245.2M695.2,241.0L721.6,241.1M717.8,241.1l2.0,4.2M722.0,247.8L747.2,239.9M743.5,241.0l3.2,3.4M748.8,252.2L772.7,241.0M772.7,241.0l7.2,5.8M769.3,242.7l3.6,2.9M775.3,255.7L798.6,243.3M798.6,243.3l7.5,5.5M795.2,245.0l3.8,2.7M801.8,259.2L824.4,245.5M824.4,245.5l7.8,5.0M821.1,247.4l3.9,2.5M828.3,262.6L850.1,247.7M850.1,247.7l8.1,4.6M854.9,266.1L875.9,250.1M875.9,250.1l8.3,4.2M881.2,269.1L902.0,252.9M899.0,255.2l4.2,2.0M907.6,272.4L927.8,255.4M924.9,257.9l4.2,1.9M934.1,275.7L953.7,258.1M950.9,260.6l4.3,1.7M959.6,277.9L980.5,261.8M977.5,264.1l4.2,2.1M984.5,279.1L1007.8,266.6M1007.8,266.6l7.6,5.4M1011.2,282.9L1033.5,268.9M1033.5,268.9l7.9,4.9M1030.3,270.9l7.9,4.9M95.9,220.6L110.8,198.8M110.8,198.8l9.2,1.4M122.1,222.9L137.0,201.1M134.9,204.2l4.6,0.7M148.8,225.5L162.8,203.1M160.8,206.3l4.6,0.5M176.7,228.7L187.3,204.4M187.3,204.4l9.3,-0.4M203.5,231.2L212.9,206.5M211.5,210.1l4.6,-0.4M230.0,233.7L238.8,208.8M237.5,212.3l4.6,-0.5M254.8,235.4L266.5,211.7M266.5,211.7l9.3,0.1M264.8,215.2l4.6,0.0M280.3,237.5L293.3,214.5M293.3,214.5l9.3,0.6M291.4,217.8l4.6,0.3M309.8,241.2L316.2,215.6M316.2,215.6l9.1,-1.9M339.2,244.0L339.2,217.6M339.2,217.6l8.4,-4.1M366.5,246.4L364.3,220.1M364.3,220.1l8.0,-4.8M394.7,248.6L388.5,222.9M388.5,222.9l7.2,-5.9M389.4,226.6l3.6,-3.0M414.7,251.1L420.8,225.4M420.8,225.4l9.1,-2.0M419.9,229.1l4.5,-1.0M444.9,253.9L443.0,227.6M443.0,227.6l8.1,-4.6M464.5,255.3L475.7,231.4M474.1,234.8l4.6,-0.1M487.2,255.4L505.5,236.4M505.5,236.4l8.9,2.9M512.1,256.6L532.9,240.3M532.9,240.3l8.4,4.1M529.9,242.7l8.4,4.1M537.6,258.4L559.7,243.8M559.7,243.8l8.0,4.7M556.5,245.9l4.0,2.4M562.9,259.3L586.8,248.1M586.8,248.1l7.2,5.9M588.2,259.6L613.8,253.2M610.1,254.1l3.0,3.6M614.1,257.2L640.2,260.9M636.5,260.4l1.4,4.4M641.1,256.8L665.6,266.7M662.0,265.3l0.3,4.6M667.1,259.8L691.8,269.2M688.2,267.9l0.4,4.6M692.6,265.0L718.6,269.5M718.6,269.5l2.6,8.9M718.9,272.9L744.7,267.2M741.0,268.0l2.9,3.6M745.9,278.3L769.9,267.4M769.9,267.4l7.2,5.9M772.5,282.0L795.7,269.3M795.7,269.3l7.6,5.4M792.3,271.1l3.8,2.7M798.8,285.1L821.6,271.9M821.6,271.9l7.7,5.2M818.4,273.8l3.9,2.6M825.2,288.5L847.5,274.3M847.5,274.3l7.9,4.9M844.3,276.3l4.0,2.4M851.6,291.7L873.4,276.8M873.4,276.8l8.1,4.6M878.1,295.1L899.2,279.2M899.2,279.2l8.3,4.2M904.4,298.3L925.1,281.9M922.1,284.3l4.2,2.0M930.7,301.4L951.1,284.7M948.2,287.1l4.2,2.0M956.5,304.1L977.5,288.0M977.5,288.0l8.3,4.1M982.3,306.5L1004.0,291.6M1004.0,291.6l8.1,4.6M1000.9,293.7l8.1,4.6M1008.4,309.5L1030.2,294.6M1030.2,294.6l8.1,4.6M1027.0,296.8l8.1,4.6M1023.9,298.9l4.0,2.3M91.9,245.4L110.5,226.7M110.5,226.7l8.8,3.0M107.8,229.3l4.4,1.5M118.1,247.7L136.6,228.9M136.6,228.9l8.8,3.0M145.4,251.0L161.7,230.1M159.3,233.1l4.6,1.0M173.1,254.3L186.3,231.4M184.4,234.7l4.6,0.3M199.8,256.9L212.0,233.4M212.0,233.4l9.3,0.2M227.3,259.8L236.9,235.2M235.5,238.7l4.6,-0.4M252.9,261.9L263.7,237.8M263.7,237.8l9.3,-0.3M280.7,264.9L288.2,239.6M288.2,239.6l9.2,-1.5M287.1,243.2l4.6,-0.8M307.5,267.5L313.7,241.8M313.7,241.8l9.1,-2.0M335.9,270.2L337.7,243.9M337.7,243.9l8.6,-3.5M363.0,272.7L362.9,246.3M362.9,246.3l8.3,-4.1M362.9,250.1l4.2,-2.1M389.0,275.2L389.3,248.8M389.3,248.8l8.4,-4.0M413.1,277.5L417.5,251.5M417.5,251.5l8.9,-2.6M438.7,279.9L444.2,254.1M444.2,254.1l9.0,-2.3M443.4,257.8l4.5,-1.1M460.1,280.4L475.1,258.7M475.1,258.7l9.2,1.4M483.8,280.8L503.7,263.4M503.7,263.4l8.6,3.6M508.8,281.9L531.0,267.5M531.0,267.5l8.0,4.8M527.8,269.5l8.0,4.8M534.1,283.0L558.0,271.6M558.0,271.6l7.3,5.8M554.5,273.2l7.3,5.8M559.8,284.5L584.6,275.4M584.6,275.4l6.7,6.5M581.0,276.7l3.3,3.2M585.8,286.7L610.9,278.5M610.9,278.5l6.5,6.7M611.5,287.8L637.4,282.7M637.4,282.7l5.6,7.4M633.7,283.5l2.8,3.7M637.4,288.7L663.8,287.3M663.8,287.3l4.5,8.1M663.5,290.7L689.9,290.7M686.1,290.7l2.0,4.2M689.7,293.4L716.1,293.4M712.3,293.4l2.0,4.2M716.3,299.9L741.7,292.5M741.7,292.5l6.3,6.9M743.2,304.7L767.0,293.2M763.6,294.9l3.7,2.9M769.8,308.4L792.7,295.2M789.4,297.1l3.9,2.6M796.1,311.5L818.6,297.8M818.6,297.8l7.8,5.0M815.4,299.8l3.9,2.5M822.3,314.5L844.6,300.5M844.6,300.5l7.9,4.9M848.2,317.0L871.0,303.8M871.0,303.8l7.7,5.2M874.8,320.8L896.6,305.8M896.6,305.8l8.1,4.6M893.4,308.0l4.1,2.3M901.1,323.9L922.6,308.6M922.6,308.6l8.2,4.4M927.8,327.6L948.1,310.7M948.1,310.7l8.5,3.8M953.6,330.2L974.5,314.1M974.5,314.1l8.3,4.1M971.4,316.4l8.3,4.1M979.3,332.7L1001.0,317.6M1001.0,317.6l8.1,4.5M997.8,319.8l8.1,4.5M994.7,322.0l4.1,2.3M1005.2,335.5L1027.2,320.9M1027.2,320.9l8.0,4.7M1024.0,323.0l8.0,4.7M1020.9,325.1l8.0,4.7M89.7,271.7L108.2,252.9M108.2,252.9l8.8,3.0M116.3,274.4L133.9,254.7M133.9,254.7l8.9,2.5M143.8,277.7L158.8,255.9M156.6,259.1l4.6,0.7M171.4,280.8L183.5,257.4M181.8,260.7l4.6,0.1M199.9,284.1L207.3,258.7M206.2,262.4l4.6,-0.8M225.5,286.2L234.1,261.2M234.1,261.2l9.2,-1.2M250.4,288.1L261.5,264.1M261.5,264.1l9.3,-0.2M277.8,291.0L286.4,266.0M286.4,266.0l9.2,-1.2M285.1,269.6l4.6,-0.6M304.9,293.6L311.5,268.1M311.5,268.1l9.1,-1.9M310.6,271.8l9.1,-1.9M333.0,296.4L335.7,270.2M335.7,270.2l8.7,-3.2M335.3,273.9l4.4,-1.6M361.3,298.9L359.8,272.6M359.8,272.6l8.1,-4.6M386.9,301.4L386.4,275.0M386.4,275.0l8.3,-4.2M410.0,303.6L415.6,277.8M415.6,277.8l9.0,-2.2M414.8,281.5l4.5,-1.1M433.8,305.4L444.0,281.0M444.0,281.0l9.3,-0.5M455.8,305.2L474.3,286.3M474.3,286.3l8.8,3.0M471.7,289.0l4.4,1.5M480.2,305.6L502.2,291.0M502.2,291.0l8.0,4.7M499.0,293.1l4.0,2.3M505.0,305.6L529.7,296.2M529.7,296.2l6.8,6.4M526.1,297.5l6.8,6.4M531.8,309.6L555.1,297.3M555.1,297.3l7.5,5.5M551.8,299.1l7.5,5.5M557.7,312.0L581.4,300.2M581.4,300.2l7.4,5.7M578.0,301.9l7.4,5.7M583.5,314.0L607.8,303.6M607.8,303.6l7.0,6.1M604.3,305.1l7.0,6.1M609.3,315.8L634.3,307.1M634.3,307.1l6.6,6.6M630.7,308.4l3.3,3.3M635.2,317.9L660.6,310.4M660.6,310.4l6.3,6.9M661.3,320.4L686.7,313.3M686.7,313.3l6.2,6.9M683.1,314.3l3.1,3.5M687.5,323.6L712.7,315.6M709.1,316.7l3.2,3.4M714.2,327.9L738.2,316.8M734.7,318.4l3.6,2.9M740.7,331.3L764.0,319.0M764.0,319.0l7.5,5.5M767.3,335.1L789.5,320.8M786.3,322.8l4.0,2.4M793.3,337.8L815.7,323.8M812.5,325.8l3.9,2.5M819.7,341.1L841.5,326.2M841.5,326.2l8.1,4.6M845.4,343.4L868.0,329.7M868.0,329.7l7.8,5.0M864.7,331.6l7.8,5.0M871.6,346.4L894.0,332.4M894.0,332.4l7.9,4.9M890.7,334.4l3.9,2.5M898.1,350.0L919.6,334.7M919.6,334.7l8.2,4.4M916.5,336.9l8.2,4.4M924.6,353.5L945.3,337.1M945.3,337.1l8.4,4.0M942.3,339.5l8.4,4.0M950.8,356.7L971.2,339.9M971.2,339.9l8.5,3.9M968.3,342.3l8.5,3.9M965.3,344.7l4.2,1.9M975.8,358.1L998.4,344.4M998.4,344.4l7.8,5.0M995.1,346.4l7.8,5.0M991.9,348.3l7.8,5.0M1001.8,361.0L1024.5,347.5M1024.5,347.5l7.8,5.1M1021.3,349.5l7.8,5.1M1018.0,351.4l7.8,5.1M87.7,298.1L105.9,279.0M105.9,279.0l8.9,2.8M113.9,300.5L131.9,281.1M131.9,281.1l8.9,2.7M129.3,283.9l4.5,1.3M141.4,303.8L156.7,282.3M156.7,282.3l9.2,1.5M169.9,307.4L180.5,283.3M179.0,286.7l4.6,-0.2M198.3,310.5L204.4,284.8M203.5,288.5l4.5,-1.0M226.0,313.1L229.0,286.8M228.6,290.6l4.4,-1.5M251.9,315.4L255.3,289.2M254.8,293.0l4.4,-1.5M272.6,315.8L286.9,293.6M286.9,293.6l9.2,1.1M284.8,296.8l4.6,0.6M299.9,318.8L311.8,295.3M311.8,295.3l9.3,0.2M328.8,322.3L335.2,296.7M335.2,296.7l9.1,-1.9M334.2,300.4l4.5,-1.0M356.7,325.1L359.5,298.8M359.5,298.8l8.7,-3.2M383.0,327.5L385.4,301.2M385.4,301.2l8.7,-3.3M385.0,305.0l8.7,-3.3M404.9,328.9L415.7,304.8M415.7,304.8l9.3,-0.3M429.7,330.8L443.1,308.0M443.1,308.0l9.3,0.7M441.2,311.3l4.6,0.4M453.1,331.1L472.0,312.7M472.0,312.7l8.7,3.2M476.9,330.5L500.4,318.5M500.4,318.5l7.4,5.6M497.0,320.2l7.4,5.6M502.5,332.0L527.0,322.1M527.0,322.1l6.9,6.2M523.5,323.5l6.9,6.2M528.6,334.6L553.1,324.7M553.1,324.7l6.9,6.2M549.6,326.1l6.9,6.2M554.9,337.6L579.0,326.9M579.0,326.9l7.1,6.0M575.5,328.5l7.1,6.0M580.8,339.9L605.2,329.9M605.2,329.9l6.9,6.2M601.7,331.4l6.9,6.2M607.1,343.1L631.1,332.1M631.1,332.1l7.2,5.9M627.7,333.7l7.2,5.9M633.2,345.9L657.2,334.7M657.2,334.7l7.2,5.9M653.7,336.3l3.6,2.9M659.6,349.2L682.9,336.8M682.9,336.8l7.5,5.5M685.7,351.9L709.0,339.5M709.0,339.5l7.5,5.5M705.7,341.3l3.8,2.7M711.6,354.3L735.3,342.6M735.3,342.6l7.4,5.7M737.9,357.5L761.2,345.0M757.8,346.8l3.8,2.7M764.2,360.7L787.0,347.5M783.7,349.4l3.9,2.6M790.4,363.8L813.0,350.1M813.0,350.1l7.8,5.0M809.7,352.0l3.9,2.5M816.6,366.8L838.9,352.7M838.9,352.7l7.9,4.9M835.7,354.7l7.9,4.9M842.6,369.6L865.0,355.6M865.0,355.6l7.9,4.9M861.8,357.6l7.9,4.9M868.7,372.5L891.0,358.5M891.0,358.5l7.9,4.9M887.8,360.5l7.9,4.9M894.8,375.6L917.0,361.3M917.0,361.3l8.0,4.8M913.8,363.3l8.0,4.8M910.6,365.4l4.0,2.4M921.1,378.9L942.8,363.9M942.8,363.9l8.1,4.5M939.7,366.0l8.1,4.5M936.6,368.2l8.1,4.5M947.1,381.8L969.0,367.0M969.0,367.0l8.1,4.6M965.8,369.1l8.1,4.6M962.7,371.2l8.1,4.6M959.5,373.3l4.0,2.3M972.8,384.2L995.4,370.5M995.4,370.5l7.8,5.0M992.1,372.5l7.8,5.0M988.9,374.4l7.8,5.0M985.6,376.4l3.9,2.5M998.9,387.3L1021.4,373.4M1021.4,373.4l7.9,5.0M1018.1,375.4l7.9,5.0M1014.9,377.4l7.9,5.0M1011.7,379.4l3.9,2.5M86.2,324.9L103.0,304.6M100.6,307.5l4.5,1.1M111.7,326.6L129.8,307.4M129.8,307.4l8.9,2.8M140.0,330.5L153.7,308.0M153.7,308.0l9.3,0.9M151.7,311.2l4.6,0.4M168.8,334.1L177.1,309.0M177.1,309.0l9.2,-1.3M196.8,336.8L201.3,310.8M201.3,310.8l8.9,-2.6M229.7,338.6L220.7,313.8M222.0,317.3l3.2,-3.3M254.6,341.3L247.9,315.7M274.1,343.7L280.6,318.1M279.7,321.8l4.6,-0.9M298.5,345.5L308.4,321.0M308.4,321.0l9.3,-0.7M325.7,348.3L333.4,323.1M333.4,323.1l9.2,-1.5M352.7,351.0L358.6,325.2M358.6,325.2l9.1,-2.1M357.8,329.0l4.5,-1.0M379.0,353.5L384.5,327.7M384.5,327.7l9.0,-2.2M402.0,354.9L413.7,331.2M413.7,331.2l9.3,0.0M412.0,334.6l4.6,0.0M426.2,356.2L441.7,334.9M441.7,334.9l9.2,1.6M448.8,355.1L471.2,341.1M471.2,341.1l7.9,4.9M468.0,343.1l3.9,2.5M475.5,358.5L496.7,342.8M496.7,342.8l8.2,4.3M493.6,345.0l8.2,4.3M499.8,357.9L524.5,348.5M524.5,348.5l6.8,6.3M520.9,349.8l6.8,6.3M526.6,362.1L549.9,349.6M549.9,349.6l7.5,5.4M546.5,351.3l7.5,5.4M552.7,364.7L575.9,352.2M575.9,352.2l7.6,5.4M572.6,354.0l7.6,5.4M578.6,367.1L602.1,355.0M602.1,355.0l7.5,5.6M598.7,356.8l3.7,2.8M604.7,369.7L628.2,357.7M628.2,357.7l7.4,5.6M624.8,359.5l7.4,5.6M630.6,372.2L654.4,360.6M654.4,360.6l7.3,5.7M656.8,375.0L680.4,363.2M680.4,363.2l7.4,5.6M677.0,364.9l3.7,2.8M682.9,377.8L706.4,365.9M706.4,365.9l7.4,5.6M709.0,380.7L732.4,368.5M732.4,368.5l7.5,5.5M735.2,383.8L758.3,371.0M758.3,371.0l7.6,5.3M755.0,372.8l3.8,2.7M761.3,386.8L784.2,373.6M784.2,373.6l7.7,5.2M780.9,375.5l7.7,5.2M787.5,389.8L810.1,376.2M810.1,376.2l7.8,5.1M806.9,378.2l7.8,5.1M803.6,380.1l3.9,2.5M813.6,392.8L836.1,378.9M836.1,378.9l7.9,5.0M832.9,380.9l7.9,5.0M829.6,382.9l3.9,2.5M839.6,395.6L862.2,381.8M862.2,381.8l7.8,5.0M858.9,383.8l7.8,5.0M855.7,385.8l7.8,5.0M865.5,398.3L888.4,385.0M888.4,385.0l7.7,5.2M885.1,386.9l7.7,5.2M881.8,388.8l7.7,5.2M891.3,400.8L914.6,388.3M914.6,388.3l7.5,5.4M911.3,390.1l7.5,5.4M907.9,391.9l7.5,5.4M904.6,393.7l3.8,2.7M917.8,404.4L940.3,390.6M940.3,390.6l7.8,5.0M937.0,392.6l7.8,5.0M933.8,394.5l7.8,5.0M930.5,396.5l3.9,2.5M943.6,407.1L966.4,393.8M966.4,393.8l7.7,5.2M963.2,395.7l7.7,5.2M959.9,397.6l7.7,5.2M956.6,399.5l3.9,2.6M969.4,409.6L992.7,397.2M992.7,397.2l7.5,5.4M989.4,399.0l7.5,5.4M986.0,400.8l7.5,5.4M995.8,413.2L1018.4,399.6M1018.4,399.6l7.8,5.1M1015.2,401.6l7.8,5.1M1011.9,403.5l7.8,5.1M1008.6,405.5l3.9,2.5M110.2,353.5L126.8,332.9M126.8,332.9l9.1,2.1M124.4,335.9l9.1,2.1M134.9,354.5L154.3,336.5M154.3,336.5l8.7,3.3M162.6,358.2L178.8,337.3M178.8,337.3l9.1,1.9M194.1,363.0L199.5,337.1M198.7,340.8l4.5,-1.1M229.3,363.8L216.4,340.8M218.2,344.2l2.6,-3.8M259.6,362.5L238.3,346.9M281.6,368.5L268.4,345.6M270.3,348.9l2.6,-3.9M301.8,372.6L300.4,346.3M300.6,350.0l4.1,-2.3M323.8,374.6L330.6,349.1M329.6,352.8l4.6,-0.9M350.5,377.2L356.0,351.4M356.0,351.4l9.0,-2.3M375.9,379.5L382.7,354.0M382.7,354.0l9.1,-1.8M381.7,357.6l4.6,-0.9M399.9,381.2L410.8,357.2M410.8,357.2l9.3,-0.3M422.3,381.2L440.6,362.2M440.6,362.2l8.8,2.9M446.4,381.3L468.6,367.1M468.6,367.1l7.9,4.9M465.4,369.2l7.9,4.9M473.5,385.3L493.6,368.2M493.6,368.2l8.5,3.7M490.7,370.7l8.5,3.7M497.8,385.3L521.3,373.3M521.3,373.3l7.4,5.6M518.0,375.1l3.7,2.8M524.1,388.3L547.2,375.6M547.2,375.6l7.6,5.4M543.9,377.4l7.6,5.4M550.1,390.8L573.3,378.3M573.3,378.3l7.6,5.4M570.0,380.1l7.6,5.4M575.7,392.5L599.8,381.8M599.8,381.8l7.1,6.0M596.3,383.4l7.1,6.0M602.1,396.0L625.5,383.7M625.5,383.7l7.5,5.5M622.1,385.5l3.7,2.8M627.7,397.7L652.0,387.4M652.0,387.4l7.0,6.1M648.5,388.8l3.5,3.0M654.0,401.1L677.7,389.4M677.7,389.4l7.4,5.7M679.9,403.5L703.8,392.4M703.8,392.4l7.2,5.8M700.4,394.0l3.6,2.9M706.2,406.9L729.6,394.5M729.6,394.5l7.5,5.5M726.2,396.3l7.5,5.5M732.3,409.8L755.5,397.2M755.5,397.2l7.6,5.4M758.4,412.6L781.5,399.9M781.5,399.9l7.6,5.4M778.2,401.7l3.8,2.7M784.6,415.7L807.4,402.5M807.4,402.5l7.7,5.2M804.1,404.4l7.7,5.2M800.8,406.3l3.9,2.6M810.7,418.7L833.3,405.1M833.3,405.1l7.8,5.1M830.1,407.1l7.8,5.1M826.8,409.0l7.8,5.1M836.6,421.4L859.5,408.2M859.5,408.2l7.7,5.2M856.2,410.1l7.7,5.2M852.9,412.0l7.7,5.2M849.6,413.9l3.8,2.6M862.4,423.9L885.7,411.5M885.7,411.5l7.5,5.5M882.3,413.3l7.5,5.5M879.0,415.0l7.5,5.5M888.6,427.1L911.5,414.0M911.5,414.0l7.7,5.2M908.2,415.9l7.7,5.2M904.9,417.8l7.7,5.2M901.6,419.7l3.8,2.6M914.8,430.4L937.3,416.6M937.3,416.6l7.9,5.0M934.1,418.6l7.9,5.0M930.8,420.6l7.9,5.0M927.6,422.6l3.9,2.5M940.8,433.3L963.3,419.6M963.3,419.6l7.8,5.0M960.1,421.6l7.8,5.0M956.8,423.6l7.8,5.0M966.6,436.1L989.5,422.8M989.5,422.8l7.7,5.2M986.2,424.7l7.7,5.2M982.9,426.6l7.7,5.2M979.6,428.5l3.9,2.6M992.5,438.9L1015.6,426.0M1015.6,426.0l7.6,5.3M1012.3,427.9l7.6,5.3M1008.9,429.7l7.6,5.3M1005.6,431.6l3.8,2.7M106.7,378.5L125.9,360.3M125.9,360.3l8.7,3.3M134.8,382.4L150.0,360.8M150.0,360.8l9.2,1.5M147.8,363.9l9.2,1.5M162.6,385.7L174.3,362.1M174.3,362.1l9.3,0.0M172.6,365.5l4.6,0.0M189.1,388.2L199.9,364.2M198.4,367.6l4.6,-0.1M220.7,391.7L220.5,365.3M220.5,369.1l4.2,-2.1M258.0,387.5L235.2,374.1M283.8,390.4L261.6,376.0M264.8,378.1l0.6,-4.6M305.9,396.7L291.5,374.5M293.6,377.7l2.4,-4.0M327.7,400.8L321.8,375.1M322.7,378.8l3.6,-2.9M351.3,403.6L350.3,377.2M350.5,381.0l4.1,-2.2M373.9,405.7L379.8,380.0M379.8,380.0l9.1,-2.1M399.9,408.2L405.9,382.5M405.0,386.2l4.5,-1.0M420.3,407.8L437.6,387.8M437.6,387.8l9.0,2.4M435.1,390.7l4.5,1.2M443.8,407.5L466.1,393.2M466.1,393.2l7.9,4.8M462.9,395.3l7.9,4.8M471.4,412.0L490.6,393.8M490.6,393.8l8.7,3.3M487.8,396.4l8.7,3.3M485.1,399.0l4.4,1.6M496.7,413.7L517.4,397.2M517.4,397.2l8.4,4.0M514.4,399.6l4.2,2.0M522.3,415.7L543.8,400.3M543.8,400.3l8.2,4.4M540.7,402.6l8.2,4.4M548.0,417.9L570.1,403.4M570.1,403.4l8.0,4.7M566.9,405.5l8.0,4.7M573.7,419.9L596.5,406.6M596.5,406.6l7.7,5.2M593.2,408.5l7.7,5.2M599.4,422.1L622.8,409.8M622.8,409.8l7.5,5.5M625.3,424.5L648.9,412.7M648.9,412.7l7.4,5.6M651.2,426.9L675.1,415.7M675.1,415.7l7.2,5.8M671.6,417.3l3.6,2.9M677.4,430.0L700.9,418.1M700.9,418.1l7.4,5.6M697.5,419.8l7.4,5.6M703.5,433.0L726.8,420.6M726.8,420.6l7.5,5.5M723.4,422.3l7.5,5.5M729.5,435.7L752.8,423.4M752.8,423.4l7.5,5.5M749.5,425.1l7.5,5.5M755.3,438.1L779.0,426.5M779.0,426.5l7.3,5.7M775.6,428.2l3.7,2.9M781.6,441.5L804.7,428.8M804.7,428.8l7.6,5.4M801.4,430.6l7.6,5.4M807.8,444.7L830.5,431.3M830.5,431.3l7.7,5.1M827.2,433.2l7.7,5.1M824.0,435.1l7.7,5.1M833.7,447.5L856.5,434.2M856.5,434.2l7.7,5.2M853.3,436.1l7.7,5.2M850.0,438.0l7.7,5.2M859.6,450.2L882.6,437.2M882.6,437.2l7.7,5.3M879.3,439.1l7.7,5.3M876.0,441.0l7.7,5.3M872.7,442.8l3.8,2.6M885.7,453.3L908.5,439.9M908.5,439.9l7.8,5.1M905.2,441.9l7.8,5.1M901.9,443.8l7.8,5.1M912.0,456.7L934.2,442.4M934.2,442.4l8.0,4.8M931.0,444.4l8.0,4.8M927.8,446.5l8.0,4.8M924.6,448.6l4.0,2.4M937.8,459.3L960.4,445.7M960.4,445.7l7.8,5.0M957.1,447.6l7.8,5.0M953.9,449.6l7.8,5.0M950.6,451.6l3.9,2.5M963.5,461.8L986.6,449.1M986.6,449.1l7.6,5.4M983.3,451.0l7.6,5.4M980.0,452.8l7.6,5.4M976.6,454.6l3.8,2.7M989.4,464.7L1012.6,452.2M1012.6,452.2l7.6,5.4M1009.3,454.0l7.6,5.4M1006.0,455.8l7.6,5.4M1002.6,457.6l3.8,2.7M104.8,404.9L123.4,386.2M123.4,386.2l8.8,3.0M120.7,388.9l8.8,3.0M130.8,407.2L149.5,388.5M149.5,388.5l8.8,3.0M146.8,391.1l8.8,3.0M156.7,409.2L175.7,390.9M175.7,390.9l8.7,3.2M187.8,414.8L196.6,389.9M195.4,393.5l4.6,-0.5M219.4,417.8L217.1,391.5M217.1,391.5l8.0,-4.8M250.7,418.5L237.9,395.4M237.9,395.4l5.3,-7.6M281.4,416.6L259.3,402.1M262.5,404.2l0.6,-4.6M306.3,420.4L286.4,403.0M289.3,405.5l1.2,-4.5M329.9,424.9L314.8,403.3M317.0,406.4l2.3,-4.1M355.6,427.6L341.2,405.5M343.3,408.7l2.4,-4.0M380.4,430.8L368.5,407.2M370.2,410.6l2.8,-3.7M399.2,434.6L401.7,408.3M417.6,433.8L435.3,414.1M432.7,416.9l4.5,1.3M444.0,436.6L460.9,416.3M460.9,416.3l9.0,2.2M458.5,419.2l4.5,1.1M468.1,437.2L488.8,420.8M488.8,420.8l8.4,4.0M485.8,423.2l8.4,4.0M482.8,425.5l4.2,2.0M494.1,439.7L514.8,423.4M514.8,423.4l8.4,4.0M511.8,425.7l8.4,4.0M508.9,428.1l8.4,4.0M519.4,441.3L541.5,426.9M541.5,426.9l8.0,4.8M538.3,429.0l8.0,4.8M535.2,431.1l4.0,2.4M545.3,443.7L567.7,429.7M567.7,429.7l7.9,4.9M564.4,431.7l7.9,4.9M571.1,446.1L593.8,432.6M593.8,432.6l7.8,5.1M590.5,434.5l7.8,5.1M596.2,447.0L620.7,437.0M620.7,437.0l6.9,6.2M617.2,438.5l6.9,6.2M622.5,450.4L646.3,439.0M646.3,439.0l7.3,5.8M642.9,440.6l7.3,5.8M648.0,451.9L672.8,442.8M672.8,442.8l6.7,6.4M669.2,444.1l6.7,6.4M674.6,456.0L698.2,444.2M698.2,444.2l7.4,5.7M694.8,445.9l7.4,5.7M700.7,459.0L724.1,446.7M724.1,446.7l7.5,5.5M720.7,448.4l3.8,2.7M726.6,461.6L750.1,449.6M750.1,449.6l7.4,5.6M746.7,451.3l3.7,2.8M752.5,464.2L776.2,452.6M776.2,452.6l7.3,5.7M772.8,454.2l3.7,2.9M778.6,467.4L802.0,455.0M802.0,455.0l7.5,5.5M798.6,456.8l7.5,5.5M804.8,470.6L827.7,457.4M827.7,457.4l7.7,5.2M824.4,459.3l7.7,5.2M821.1,461.2l3.8,2.6M830.8,473.5L853.7,460.3M853.7,460.3l7.7,5.2M850.4,462.2l7.7,5.2M847.1,464.1l7.7,5.2M856.7,476.2L879.7,463.3M879.7,463.3l7.6,5.3M876.4,465.1l7.6,5.3M873.1,467.0l7.6,5.3M882.5,478.9L905.8,466.4M905.8,466.4l7.5,5.5M902.5,468.2l7.5,5.5M899.1,470.0l7.5,5.5M908.8,482.3L931.5,468.8M931.5,468.8l7.8,5.1M928.2,470.7l7.8,5.1M924.9,472.7l7.8,5.1M921.7,474.6l3.9,2.5M934.7,485.1L957.5,471.9M957.5,471.9l7.7,5.2M954.2,473.8l7.7,5.2M950.9,475.7l7.7,5.2M947.7,477.6l3.9,2.6M960.4,487.7L983.7,475.2M983.7,475.2l7.6,5.4M980.3,477.0l7.6,5.4M977.0,478.8l7.6,5.4M986.5,490.9L1009.5,478.0M1009.5,478.0l7.6,5.3M1006.2,479.9l7.6,5.3M1002.9,481.7l7.6,5.3M1012.5,494.1L1035.3,480.8M1035.3,480.8l7.7,5.2M1032.1,482.7l7.7,5.2M1028.8,484.7l7.7,5.2M102.4,430.9L121.4,412.6M121.4,412.6l8.7,3.2M118.7,415.2l4.4,1.6M128.4,433.0L147.5,414.9M147.5,414.9l8.7,3.3M144.8,417.5l8.7,3.3M154.2,435.1L173.7,417.3M173.7,417.3l8.6,3.4M170.9,419.9l4.3,1.7M183.2,439.8L196.8,417.2M196.8,417.2l9.3,0.8M194.8,420.4l4.6,0.4M213.7,443.8L218.2,417.8M217.6,421.5l4.5,-1.3M245.9,445.7L238.0,420.5M239.2,424.1l3.4,-3.2M276.6,445.5L259.4,425.4M261.9,428.3l1.9,-4.3M302.8,447.7L285.2,428.0M287.7,430.8l1.8,-4.3M328.6,450.2L311.4,430.2M313.9,433.1l1.8,-4.3M353.5,453.5L338.5,431.8M340.6,434.9l2.3,-4.1M382.6,452.9L361.4,437.2M364.4,439.5l0.9,-4.6M406.3,457.8L389.6,437.3M392.0,440.3l2.0,-4.2M420.4,462.7L427.5,437.3M427.5,437.3l9.1,-1.7M426.5,441.0l4.6,-0.8M442.9,463.7L457.0,441.4M457.0,441.4l9.2,1.0M455.0,444.6l9.2,1.0M452.9,447.8l4.6,0.5M465.0,462.4L486.9,447.7M486.9,447.7l8.0,4.7M483.7,449.8l8.0,4.7M480.6,451.9l8.0,4.7M477.4,454.1l4.0,2.3M491.2,465.4L512.6,449.8M512.6,449.8l8.2,4.3M509.5,452.1l8.2,4.3M506.4,454.3l8.2,4.3M503.4,456.5l4.1,2.2M516.6,467.1L539.1,453.3M539.1,453.3l7.9,5.0M535.9,455.3l7.9,5.0M532.6,457.3l7.9,5.0M542.2,469.0L565.5,456.6M565.5,456.6l7.5,5.5M562.1,458.4l7.5,5.5M558.8,460.2l3.8,2.7M568.2,471.7L591.4,459.1M591.4,459.1l7.6,5.4M588.1,460.9l7.6,5.4M594.2,474.4L617.3,461.7M617.3,461.7l7.6,5.4M614.0,463.5l7.6,5.4M620.1,476.9L643.4,464.5M643.4,464.5l7.5,5.5M640.0,466.3l7.5,5.5M646.0,479.5L669.4,467.3M669.4,467.3l7.5,5.5M666.0,469.1l7.5,5.5M671.9,482.0L695.5,470.2M695.5,470.2l7.4,5.7M692.1,471.9l7.4,5.7M697.7,484.6L721.5,473.1M721.5,473.1l7.3,5.8M718.1,474.8l7.3,5.8M723.8,487.6L747.3,475.6M747.3,475.6l7.4,5.6M743.9,477.3l7.4,5.6M749.8,490.4L773.3,478.3M773.3,478.3l7.5,5.6M769.9,480.1l7.5,5.6M775.8,493.4L799.1,481.0M799.1,481.0l7.5,5.4M795.8,482.8l7.5,5.4M801.9,496.5L824.9,483.5M824.9,483.5l7.7,5.3M821.6,485.4l7.7,5.3M818.3,487.3l3.8,2.6M827.8,499.2L851.0,486.6M851.0,486.6l7.6,5.4M847.6,488.4l7.6,5.4M844.3,490.2l7.6,5.4M853.7,502.1L876.9,489.4M876.9,489.4l7.6,5.4M873.6,491.2l7.6,5.4M870.2,493.1l7.6,5.4M879.8,505.2L902.7,492.1M902.7,492.1l7.7,5.3M899.4,494.0l7.7,5.3M896.1,495.9l7.7,5.3M905.7,508.1L928.6,495.0M928.6,495.0l7.7,5.2M925.3,496.9l7.7,5.2M922.0,498.8l7.7,5.2M918.7,500.7l3.8,2.6M931.4,510.6L954.8,498.4M954.8,498.4l7.5,5.5M951.4,500.1l7.5,5.5M948.1,501.9l7.5,5.5M944.7,503.7l3.7,2.8M957.2,513.3L980.9,501.6M980.9,501.6l7.4,5.7M977.5,503.3l7.4,5.7M974.1,505.0l7.4,5.7M970.7,506.7l3.7,2.8M983.4,516.8L1006.5,504.1M1006.5,504.1l7.6,5.4M1003.2,505.9l7.6,5.4M999.9,507.7l7.6,5.4M996.5,509.6l3.8,2.7M1009.5,520.1L1032.3,506.8M1032.3,506.8l7.7,5.1M1029.0,508.7l7.7,5.1M1025.7,510.6l7.7,5.1M1022.4,512.5l7.7,5.1M100.1,456.9L119.3,438.8M119.3,438.8l8.7,3.3M126.4,459.4L145.1,440.7M145.1,440.7l8.8,3.0M152.1,461.3L171.4,443.3M171.4,443.3l8.7,3.3M168.6,445.9l8.7,3.3M179.9,465.3L195.5,443.9M195.5,443.9l9.2,1.6M208.7,469.1L218.6,444.6M218.6,444.6l9.3,-0.7M217.2,448.2l4.6,-0.3M239.7,472.4L239.7,446.0M239.7,449.8l4.2,-2.0M270.0,474.0L261.3,449.1M262.5,452.7l3.3,-3.3M299.0,474.8L284.2,453.0M284.2,453.0l4.6,-8.1M324.2,477.8L311.0,454.8M311.0,454.8l5.2,-7.7M349.6,480.4L337.5,457.0M339.3,460.4l2.8,-3.7M378.0,481.3L361.1,461.0M363.5,463.9l1.9,-4.2M392.9,486.5L398.2,460.7M418.7,489.0L424.2,463.2M424.2,463.2l9.0,-2.3M439.7,489.3L455.2,467.9M455.2,467.9l9.2,1.6M452.9,471.0l9.2,1.6M450.7,474.0l4.6,0.8M462.1,487.9L484.7,474.3M484.7,474.3l7.8,5.1M481.4,476.3l7.8,5.1M478.2,478.2l3.9,2.5M488.9,491.7L509.8,475.6M509.8,475.6l8.3,4.2M506.8,478.0l8.3,4.2M503.8,480.3l4.2,2.1M514.7,494.1L535.9,478.3M535.9,478.3l8.3,4.2M532.8,480.6l8.3,4.2M529.8,482.9l4.1,2.1M539.5,494.9L563.0,482.8M563.0,482.8l7.5,5.5M559.6,484.5l7.5,5.5M556.2,486.2l3.7,2.8M565.5,497.7L588.8,485.2M588.8,485.2l7.5,5.5M585.5,487.0l7.5,5.5M582.1,488.8l3.8,2.7M591.6,500.5L614.7,487.6M614.7,487.6l7.6,5.3M611.3,489.5l7.6,5.3M608.0,491.3l3.8,2.7M617.1,502.3L641.0,491.1M641.0,491.1l7.2,5.8M637.6,492.8l7.2,5.8M643.5,505.9L666.5,493.0M666.5,493.0l7.6,5.3M663.2,494.8l7.6,5.3M669.4,508.4L692.5,495.8M692.5,495.8l7.6,5.4M689.2,497.6l7.6,5.4M695.2,511.0L718.6,498.7M718.6,498.7l7.5,5.5M715.2,500.5l7.5,5.5M721.0,513.5L744.6,501.8M744.6,501.8l7.4,5.7M741.2,503.4l7.4,5.7M746.9,516.2L770.6,504.6M770.6,504.6l7.3,5.7M767.2,506.2l7.3,5.7M772.9,519.3L796.4,507.1M796.4,507.1l7.5,5.5M793.0,508.9l7.5,5.5M799.1,522.5L822.1,509.6M822.1,509.6l7.6,5.3M818.8,511.4l7.6,5.3M815.5,513.3l3.8,2.7M825.0,525.3L848.0,512.5M848.0,512.5l7.6,5.3M844.7,514.3l7.6,5.3M841.4,516.1l7.6,5.3M850.9,528.1L874.0,515.3M874.0,515.3l7.6,5.3M870.6,517.2l7.6,5.3M867.3,519.0l7.6,5.3M876.8,531.1L899.8,518.1M899.8,518.1l7.7,5.3M896.5,520.0l7.7,5.3M893.2,521.8l7.7,5.3M889.9,523.7l3.8,2.6M902.7,533.9L925.8,521.1M925.8,521.1l7.6,5.3M922.4,523.0l7.6,5.3M919.1,524.8l7.6,5.3M915.8,526.7l3.8,2.7M928.4,536.5L951.9,524.4M951.9,524.4l7.4,5.6M948.5,526.2l7.4,5.6M945.1,527.9l7.4,5.6M941.7,529.6l3.7,2.8M954.2,539.2L977.9,527.6M977.9,527.6l7.3,5.7M974.5,529.3l7.3,5.7M971.1,531.0l7.3,5.7M967.7,532.6l3.7,2.9M980.3,542.7L1003.6,530.1M1003.6,530.1l7.6,5.4M1000.2,531.9l7.6,5.4M996.9,533.7l7.6,5.4M993.5,535.5l3.8,2.7M1006.4,545.9L1029.3,532.9M1029.3,532.9l7.7,5.2M1026.0,534.8l7.7,5.2M1022.7,536.6l7.7,5.2M1019.4,538.5l7.7,5.2M98.2,483.2L116.9,464.6M114.2,467.3l4.4,1.5M124.2,485.5L142.9,466.8M142.9,466.8l8.8,3.0M140.2,469.5l4.4,1.5M150.2,487.8L168.7,469.0M168.7,469.0l8.8,2.9M166.1,471.7l4.4,1.5M178.0,491.6L192.9,469.8M192.9,469.8l9.2,1.4M190.8,472.9l9.2,1.4M206.8,495.4L216.0,470.6M216.0,470.6l9.3,-0.9M236.0,498.4L238.8,472.2M238.8,472.2l8.7,-3.2M238.4,475.9l4.4,-1.6M265.3,500.7L261.4,474.6M261.9,478.3l3.8,-2.6M293.3,502.6L285.3,477.4M285.3,477.4l6.7,-6.4M322.0,503.7L308.4,481.0M310.4,484.3l2.5,-3.9M348.2,506.0L334.2,483.6M336.2,486.8l2.5,-3.9M372.9,509.1L361.3,485.3M363.0,488.8l2.9,-3.7M393.0,512.9L393.1,486.5M393.1,490.3l4.2,-2.0M411.5,513.0L426.5,491.3M426.5,491.3l9.2,1.4M424.3,494.4l4.6,0.7M433.6,511.5L456.2,497.8M456.2,497.8l7.8,5.0M453.0,499.8l7.8,5.0M449.7,501.7l3.9,2.5M461.1,516.0L480.7,498.3M480.7,498.3l8.6,3.5M477.8,500.8l8.6,3.5M475.0,503.4l8.6,3.5M486.6,518.1L507.0,501.3M507.0,501.3l8.5,3.9M504.0,503.7l8.5,3.9M501.1,506.1l8.5,3.9M511.1,518.5L534.3,506.0M534.3,506.0l7.5,5.4M531.0,507.8l7.5,5.4M527.7,509.6l3.8,2.7M537.8,522.3L559.5,507.4M559.5,507.4l8.1,4.6M556.4,509.5l8.1,4.6M553.3,511.7l4.0,2.3M563.7,524.9L585.4,510.0M585.4,510.0l8.1,4.6M582.3,512.1l8.1,4.6M579.2,514.3l4.0,2.3M589.3,527.1L611.7,513.1M611.7,513.1l7.9,4.9M608.4,515.1l7.9,4.9M605.2,517.1l3.9,2.5M614.9,529.3L637.9,516.2M637.9,516.2l7.7,5.3M634.6,518.1l7.7,5.3M631.3,520.0l3.8,2.6M640.8,532.0L663.8,518.9M663.8,518.9l7.7,5.2M660.5,520.8l7.7,5.2M666.7,534.5L689.8,521.8M689.8,521.8l7.6,5.3M686.5,523.6l3.8,2.7M692.5,537.1L715.8,524.6M715.8,524.6l7.5,5.5M712.4,526.4l7.5,5.5M718.2,539.5L741.8,527.7M741.8,527.7l7.4,5.6M738.4,529.4l7.4,5.6M744.2,542.4L767.7,530.3M767.7,530.3l7.5,5.6M764.3,532.1l7.5,5.6M770.2,545.4L793.5,532.9M793.5,532.9l7.5,5.4M790.1,534.7l7.5,5.4M786.8,536.5l3.8,2.7M796.1,548.2L819.4,535.8M819.4,535.8l7.5,5.5M816.0,537.6l7.5,5.5M812.7,539.3l3.8,2.7M822.1,551.2L845.2,538.5M845.2,538.5l7.6,5.4M841.9,540.3l7.6,5.4M838.5,542.1l7.6,5.4M847.8,553.8L871.2,541.6M871.2,541.6l7.5,5.5M867.9,543.4l7.5,5.5M864.5,545.1l3.7,2.8M873.8,556.9L897.0,544.2M897.0,544.2l7.6,5.4M893.7,546.1l7.6,5.4M890.3,547.9l3.8,2.7M899.6,559.7L922.9,547.3M922.9,547.3l7.5,5.5M919.6,549.1l7.5,5.5M916.2,550.9l3.8,2.7M925.4,562.4L948.9,550.4M948.9,550.4l7.4,5.6M945.5,552.1l7.4,5.6M942.2,553.9l7.4,5.6M951.4,565.6L974.7,553.1M974.7,553.1l7.5,5.4M971.3,554.9l7.5,5.4M968.0,556.7l7.5,5.4M964.6,558.5l3.8,2.7M977.3,568.5L1000.6,556.1M1000.6,556.1l7.5,5.5M997.2,557.9l7.5,5.5M993.9,559.7l7.5,5.5M990.5,561.5l3.8,2.7M1003.3,571.7L1026.3,558.9M1026.3,558.9l7.6,5.3M1023.0,560.8l7.6,5.3M1019.7,562.6l7.6,5.3M1016.4,564.5l3.8,2.7M96.1,509.4L114.6,490.6M114.6,490.6l8.8,3.0M122.4,512.0L140.2,492.4M140.2,492.4l8.9,2.6M149.3,515.0L165.2,493.9M165.2,493.9l9.1,1.8M162.9,497.0l4.6,0.9M176.5,518.1L189.9,495.4M189.9,495.4l9.3,0.7M187.9,498.6l4.6,0.4M204.5,521.4L213.7,496.7M213.7,496.7l9.3,-0.9M212.4,500.2l9.3,-0.9M232.9,524.4L237.2,498.3M237.2,498.3l8.9,-2.7M262.0,526.8L260.0,500.5M260.0,500.5l8.0,-4.7M260.3,504.3l4.0,-2.4M289.4,529.0L284.4,503.1M285.1,506.8l3.7,-2.8M318.0,530.6L307.7,506.3M309.2,509.8l3.1,-3.5M344.2,532.8L333.3,508.8M334.9,512.3l3.0,-3.6M368.3,535.9L361.0,510.5M361.0,510.5l6.9,-6.2M389.9,538.9L391.3,512.5M391.1,516.3l4.3,-1.8M406.9,537.2L426.1,519.1M426.1,519.1l8.7,3.3M423.3,521.7l8.7,3.3M434.2,540.9L450.7,520.4M450.7,520.4l9.1,2.1M448.3,523.3l9.1,2.1M445.9,526.3l9.1,2.1M459.6,543.0L477.1,523.3M477.1,523.3l9.0,2.5M474.6,526.1l9.0,2.5M472.1,529.0l9.0,2.5M484.3,544.4L504.2,527.0M504.2,527.0l8.6,3.6M501.3,529.5l8.6,3.6M498.5,532.0l8.6,3.6M509.0,545.4L531.3,531.1M531.3,531.1l7.9,4.8M528.1,533.2l7.9,4.8M524.9,535.2l7.9,4.8M535.0,548.0L557.1,533.7M557.1,533.7l8.0,4.8M553.9,535.7l8.0,4.8M550.7,537.8l8.0,4.8M561.0,550.8L582.9,536.1M582.9,536.1l8.0,4.7M579.7,538.2l8.0,4.7M576.6,540.3l4.0,2.3M586.4,552.7L609.3,539.5M609.3,539.5l7.7,5.2M606.0,541.4l7.7,5.2M602.7,543.3l3.8,2.6M612.3,555.3L635.2,542.2M635.2,542.2l7.7,5.2M631.9,544.1l7.7,5.2M628.6,546.0l3.8,2.6M637.7,557.0L661.6,545.8M661.6,545.8l7.2,5.9M658.1,547.4l7.2,5.9M654.7,549.0l3.6,2.9M663.5,559.7L687.5,548.6M687.5,548.6l7.2,5.9M684.0,550.2l7.2,5.9M680.6,551.8l3.6,2.9M689.3,562.1L713.5,551.5M713.5,551.5l7.1,6.0M710.0,553.0l7.1,6.0M706.5,554.6l3.5,3.0M715.6,565.7L738.9,553.4M738.9,553.4l7.5,5.5M735.6,555.2l7.5,5.5M732.2,557.0l3.8,2.7M741.5,568.6L764.8,556.1M764.8,556.1l7.5,5.4M761.4,557.9l7.5,5.4M758.1,559.7l3.8,2.7M767.4,571.4L790.6,558.9M790.6,558.9l7.5,5.4M787.3,560.7l7.5,5.4M783.9,562.5l7.5,5.4M793.2,574.0L816.6,561.9M816.6,561.9l7.5,5.6M813.2,563.6l7.5,5.6M809.9,565.4l7.5,5.6M819.2,577.1L842.3,564.5M842.3,564.5l7.6,5.4M839.0,566.3l7.6,5.4M835.7,568.1l7.6,5.4M844.9,579.7L868.3,567.5M868.3,567.5l7.5,5.5M865.0,569.3l7.5,5.5M861.6,571.0l7.5,5.5M870.9,582.8L894.1,570.2M894.1,570.2l7.6,5.4M890.7,572.0l7.6,5.4M887.4,573.8l7.6,5.4M896.8,585.7L919.9,573.1M919.9,573.1l7.6,5.4M916.6,574.9l7.6,5.4M913.3,576.7l7.6,5.4M922.6,588.5L945.9,576.1M945.9,576.1l7.5,5.5M942.5,577.9l7.5,5.5M939.1,579.7l3.8,2.7M948.5,591.6L971.6,578.9M971.6,578.9l7.6,5.4M968.3,580.8l7.6,5.4M965.0,582.6l7.6,5.4M974.3,594.6L997.5,581.9M997.5,581.9l7.6,5.4M994.2,583.7l7.6,5.4M990.8,585.6l7.6,5.4M987.5,587.4l3.8,2.7M1000.3,597.7L1023.3,584.8M1023.3,584.8l7.6,5.3M1020.0,586.6l7.6,5.3M1016.6,588.5l7.6,5.3M1013.3,590.4l3.8,2.6M95.1,536.5L111.2,515.6M108.9,518.6l4.6,0.9M121.6,539.2L136.6,517.4M134.4,520.5l4.6,0.7M148.6,542.1L161.4,519.0M161.4,519.0l9.3,0.5M175.1,544.6L186.8,521.0M186.8,521.0l9.3,0.0M185.1,524.4l9.3,0.0M202.0,547.4L211.6,522.8M211.6,522.8l9.3,-0.8M210.3,526.3l4.6,-0.4M229.5,550.2L236.0,524.6M236.0,524.6l9.1,-1.9M257.0,552.8L260.3,526.6M260.3,526.6l8.8,-3.0M259.8,530.4l4.4,-1.5M284.3,555.3L284.8,528.9M284.7,532.7l4.2,-2.0M313.7,557.2L307.3,531.6M308.2,535.3l3.6,-3.0M340.4,559.4L332.3,534.3M332.3,534.3l6.7,-6.5M364.3,562.3L360.2,536.2M360.8,540.0l3.8,-2.7M386.1,564.7L390.1,538.6M389.6,542.4l4.4,-1.4M404.8,563.5L423.3,544.8M423.3,544.8l8.8,3.0M420.6,547.5l8.8,3.0M431.8,567.1L448.0,546.2M448.0,546.2l9.1,1.9M445.7,549.2l9.1,1.9M443.4,552.2l4.5,1.0M455.5,567.4L476.1,550.9M476.1,550.9l8.4,4.0M473.1,553.3l8.4,4.0M470.2,555.6l8.4,4.0M480.5,568.8L502.8,554.6M502.8,554.6l7.9,4.9M499.6,556.7l7.9,4.9M496.4,558.7l7.9,4.9M493.2,560.7l4.0,2.4M506.6,571.6L528.5,556.9M528.5,556.9l8.0,4.7M525.4,559.0l8.0,4.7M522.2,561.1l8.0,4.7M519.1,563.2l4.0,2.3M531.5,572.4L555.4,561.2M555.4,561.2l7.2,5.8M552.0,562.8l7.2,5.8M548.5,564.4l7.2,5.8M545.1,566.1l3.6,2.9M558.1,576.3L580.6,562.5M580.6,562.5l7.8,5.0M577.3,564.5l7.8,5.0M574.1,566.5l7.8,5.0M570.9,568.5l3.9,2.5M583.1,577.5L607.2,566.6M607.2,566.6l7.1,6.0M603.8,568.2l7.1,6.0M600.3,569.8l7.1,6.0M609.4,580.9L632.7,568.5M632.7,568.5l7.5,5.5M629.4,570.3l7.5,5.5M626.0,572.1l3.8,2.7M635.0,583.0L658.9,571.7M658.9,571.7l7.2,5.8M655.4,573.4l7.2,5.8M652.0,575.0l7.2,5.8M660.8,585.6L684.7,574.5M684.7,574.5l7.2,5.9M681.3,576.1l7.2,5.9M677.9,577.7l7.2,5.9M686.5,588.0L710.7,577.5M710.7,577.5l7.1,6.0M707.3,579.0l7.1,6.0M703.8,580.5l7.1,6.0M700.3,582.1l3.5,3.0M712.8,591.6L736.2,579.4M736.2,579.4l7.5,5.5M732.8,581.2l7.5,5.5M729.5,582.9l3.7,2.8M738.8,594.6L761.9,581.9M761.9,581.9l7.6,5.4M758.6,583.8l7.6,5.4M755.3,585.6l3.8,2.7M764.6,597.4L787.8,584.7M787.8,584.7l7.6,5.3M784.4,586.5l7.6,5.3M781.1,588.4l7.6,5.3M790.4,600.2L813.7,587.6M813.7,587.6l7.6,5.4M810.3,589.4l7.6,5.4M807.0,591.2l7.6,5.4M816.3,603.1L839.5,590.3M839.5,590.3l7.6,5.4M836.1,592.2l7.6,5.4M832.8,594.0l7.6,5.4M829.5,595.8l3.8,2.7M842.1,605.8L865.4,593.3M865.4,593.3l7.5,5.5M862.0,595.1l7.5,5.5M858.7,596.9l7.5,5.5M868.0,608.7L891.2,596.1M891.2,596.1l7.6,5.4M887.8,598.0l7.6,5.4M884.5,599.8l7.6,5.4M881.2,601.6l3.8,2.7M893.8,611.6L917.0,599.0M917.0,599.0l7.6,5.4M913.7,600.8l7.6,5.4M910.3,602.7l7.6,5.4M907.0,604.5l3.8,2.7M919.5,614.3L943.0,602.2M943.0,602.2l7.5,5.6M939.6,603.9l7.5,5.6M936.2,605.7l7.5,5.6M945.5,617.5L968.7,604.9M968.7,604.9l7.6,5.4M965.3,606.7l7.6,5.4M962.0,608.5l3.8,2.7M971.3,620.4L994.5,607.9M994.5,607.9l7.5,5.5M991.2,609.7l7.5,5.5M987.8,611.5l3.8,2.7M997.1,623.4L1020.3,610.8M1020.3,610.8l7.6,5.4M1017.0,612.6l7.6,5.4M1013.6,614.5l7.6,5.4M94.4,563.6L107.6,540.7M105.7,544.0l4.6,0.3M120.9,566.1L132.9,542.6M131.2,546.0l4.6,0.1M146.8,568.3L158.8,544.8M158.8,544.8l9.3,0.2M157.1,548.2l4.6,0.1M172.1,570.3L185.2,547.4M185.2,547.4l9.3,0.6M198.5,572.8L210.6,549.4M210.6,549.4l9.3,0.2M208.9,552.7l9.3,0.2M224.7,575.3L236.2,551.5M236.2,551.5l9.3,-0.1M250.6,577.6L262.1,553.8M262.1,553.8l9.3,-0.0M260.4,557.3l4.6,-0.0M282.1,581.3L282.4,554.9M282.3,558.7l4.2,-2.0M309.2,583.6L307.0,557.3M307.3,561.1l4.0,-2.4M336.1,585.9L331.8,559.8M332.4,563.6l3.8,-2.7M359.8,588.4L359.8,562.0M359.8,565.8l4.2,-2.0M383.7,590.7L387.7,564.6M387.1,568.4l4.4,-1.4M405.6,591.9L417.5,568.3M417.5,568.3l9.3,0.1M415.8,571.7l9.3,0.1M430.0,593.5L444.9,571.7M444.9,571.7l9.2,1.3M442.7,574.9l9.2,1.3M440.6,578.0l9.2,1.3M453.6,594.1L473.0,576.2M473.0,576.2l8.7,3.4M470.2,578.7l8.7,3.4M467.4,581.3l8.7,3.4M464.6,583.9l4.3,1.7M478.5,595.5L499.8,579.8M499.8,579.8l8.2,4.3M496.7,582.1l8.2,4.3M493.7,584.3l8.2,4.3M490.6,586.6l4.1,2.2M504.7,598.5L525.3,582.0M525.3,582.0l8.4,4.0M522.3,584.3l8.4,4.0M519.4,586.7l8.4,4.0M516.4,589.1l4.2,2.0M530.0,600.3L551.7,585.3M551.7,585.3l8.1,4.6M548.6,587.5l8.1,4.6M545.5,589.6l8.1,4.6M542.3,591.8l4.0,2.3M555.8,602.8L577.6,588.0M577.6,588.0l8.1,4.6M574.5,590.1l8.1,4.6M571.3,592.2l8.1,4.6M568.2,594.4l4.0,2.3M581.2,604.8L603.9,591.2M603.9,591.2l7.8,5.1M600.6,593.2l7.8,5.1M597.3,595.1l7.8,5.1M594.1,597.1l3.9,2.5M607.1,607.4L629.7,593.8M629.7,593.8l7.8,5.1M626.4,595.8l7.8,5.1M623.2,597.8l7.8,5.1M619.9,599.7l3.9,2.5M632.8,609.9L655.7,596.8M655.7,596.8l7.7,5.2M652.4,598.6l7.7,5.2M649.1,600.5l7.7,5.2M645.8,602.4l3.8,2.6M658.5,612.3L681.7,599.7M681.7,599.7l7.6,5.4M678.3,601.5l7.6,5.4M675.0,603.3l7.6,5.4M671.6,605.1l7.6,5.4M684.3,615.0L707.5,602.4M707.5,602.4l7.6,5.4M704.2,604.2l7.6,5.4M700.8,606.0l7.6,5.4M697.5,607.8l3.8,2.7M710.1,617.6L733.4,605.2M733.4,605.2l7.5,5.5M730.0,607.0l7.5,5.5M726.7,608.8l7.5,5.5M723.3,610.6l3.8,2.7M735.8,620.2L759.3,608.2M759.3,608.2l7.5,5.6M755.9,609.9l7.5,5.6M752.5,611.6l7.5,5.6M749.2,613.4l3.7,2.8M761.8,623.3L785.0,610.7M785.0,610.7l7.6,5.4M781.6,612.5l7.6,5.4M778.3,614.3l3.8,2.7M787.4,625.8L811.0,613.8M811.0,613.8l7.4,5.6M807.6,615.5l7.4,5.6M804.2,617.2l3.7,2.8M813.4,628.9L836.7,616.3M836.7,616.3l7.6,5.4M833.3,618.1l7.6,5.4M830.0,619.9l3.8,2.7M839.1,631.5L862.6,619.4M862.6,619.4l7.5,5.6M859.2,621.1l7.5,5.6M855.8,622.9l7.5,5.6M852.4,624.6l3.7,2.8M865.0,634.5L888.3,622.2M888.3,622.2l7.5,5.5M885.0,623.9l7.5,5.5M881.6,625.7l7.5,5.5M878.3,627.5l3.8,2.7M890.9,637.5L914.1,624.9M914.1,624.9l7.6,5.4M910.7,626.7l7.6,5.4M907.4,628.5l7.6,5.4M904.1,630.4l3.8,2.7M916.6,640.2L940.0,628.0M940.0,628.0l7.5,5.5M936.6,629.8l7.5,5.5M933.3,631.5l7.5,5.5M929.9,633.3l3.7,2.8M942.5,643.4L965.7,630.8M965.7,630.8l7.6,5.4M962.4,632.6l7.6,5.4M959.0,634.4l7.6,5.4M955.7,636.2l3.8,2.7M968.3,646.4L991.5,633.7M991.5,633.7l7.6,5.4M988.1,635.5l7.6,5.4M984.8,637.3l7.6,5.4M981.5,639.2l3.8,2.7M994.2,649.4L1017.2,636.6M1017.2,636.6l7.6,5.3M1013.9,638.4l7.6,5.3M1010.6,640.3l7.6,5.3M1007.3,642.1l3.8,2.7M92.6,589.8L105.0,566.5M105.0,566.5l9.3,0.3M119.5,592.5L129.9,568.2M129.9,568.2l9.3,-0.5M128.4,571.7l4.6,-0.2M144.6,594.3L156.6,570.8M156.6,570.8l9.3,0.2M168.0,594.9L184.9,574.7M184.9,574.7l9.0,2.2M195.7,598.5L208.9,575.7M208.9,575.7l9.3,0.6M207.0,579.0l9.3,0.6M221.3,600.7L235.0,578.1M235.0,578.1l9.3,0.9M233.0,581.4l9.3,0.9M249.9,604.2L258.1,579.2M258.1,579.2l9.2,-1.3M257.0,582.8l4.6,-0.6M279.5,607.3L280.2,580.9M280.2,580.9l8.5,-3.9M306.8,609.6L304.6,583.3M304.6,583.3l8.0,-4.8M331.8,612.0L331.3,585.6M331.4,589.4l4.1,-2.1M357.4,614.4L357.5,588.0M357.5,591.8l4.2,-2.0M377.8,615.7L388.7,591.6M388.7,591.6l9.3,-0.3M387.1,595.1l4.6,-0.1M402.6,617.6L415.6,594.6M415.6,594.6l9.3,0.6M413.7,597.9l9.3,0.6M425.0,617.3L444.8,599.9M444.8,599.9l8.6,3.6M442.0,602.4l8.6,3.6M439.1,604.9l8.6,3.6M452.0,620.9L469.6,601.2M469.6,601.2l9.0,2.5M467.0,604.1l9.0,2.5M464.5,606.9l9.0,2.5M462.0,609.7l4.5,1.3M476.6,622.2L496.6,605.0M496.6,605.0l8.5,3.7M493.7,607.5l8.5,3.7M490.9,610.0l8.5,3.7M488.0,612.4l4.3,1.8M501.8,624.0L523.1,608.3M523.1,608.3l8.2,4.3M520.0,610.6l8.2,4.3M516.9,612.8l8.2,4.3M513.9,615.1l8.2,4.3M527.8,626.7L548.8,610.7M548.8,610.7l8.3,4.2M545.7,613.0l8.3,4.2M542.7,615.3l8.3,4.2M539.7,617.6l8.3,4.2M552.8,628.2L575.3,614.4M575.3,614.4l7.8,5.0M572.1,616.4l7.8,5.0M568.9,618.4l7.8,5.0M565.6,620.4l7.8,5.0M578.3,630.2L601.5,617.6M601.5,617.6l7.6,5.4M598.2,619.4l7.6,5.4M594.8,621.3l7.6,5.4M591.5,623.1l7.6,5.4M604.5,633.5L627.0,619.7M627.0,619.7l7.8,5.0M623.7,621.7l7.8,5.0M620.5,623.6l7.8,5.0M617.3,625.6l7.8,5.0M629.9,635.4L653.2,623.0M653.2,623.0l7.5,5.5M649.8,624.8l7.5,5.5M646.5,626.6l7.5,5.5M643.1,628.4l3.8,2.7M655.5,637.6L679.3,626.2M679.3,626.2l7.3,5.8M675.8,627.8l7.3,5.8M672.4,629.5l7.3,5.8M669.0,631.1l3.6,2.9M681.6,641.0L704.7,628.2M704.7,628.2l7.6,5.3M701.4,630.1l7.6,5.3M698.1,631.9l7.6,5.3M694.7,633.7l7.6,5.3M707.4,643.7L730.5,631.0M730.5,631.0l7.6,5.4M727.2,632.8l7.6,5.4M723.9,634.6l7.6,5.4M720.5,636.5l3.8,2.7M733.1,646.3L756.4,633.9M756.4,633.9l7.5,5.4M753.1,635.6l7.5,5.4M749.7,637.4l7.5,5.4M746.4,639.2l3.8,2.7M759.0,649.3L782.1,636.5M782.1,636.5l7.6,5.3M778.8,638.3l7.6,5.3M775.5,640.2l7.6,5.3M772.2,642.0l3.8,2.7M784.8,652.0L808.0,639.4M808.0,639.4l7.6,5.4M804.6,641.2l7.6,5.4M801.3,643.0l3.8,2.7M810.6,654.9L833.7,642.1M833.7,642.1l7.6,5.4M830.4,644.0l7.6,5.4M827.1,645.8l3.8,2.7M836.4,657.7L859.5,645.0M859.5,645.0l7.6,5.4M856.2,646.8l7.6,5.4M852.9,648.6l3.8,2.7M862.2,660.5L885.3,647.9M885.3,647.9l7.6,5.4M882.0,649.7l7.6,5.4M878.7,651.5l7.6,5.4M875.3,653.3l3.8,2.7M888.0,663.4L911.1,650.7M911.1,650.7l7.6,5.4M907.8,652.6l7.6,5.4M904.5,654.4l7.6,5.4M901.1,656.2l3.8,2.7M913.7,666.3L936.9,653.7M936.9,653.7l7.6,5.4M933.6,655.5l7.6,5.4M930.3,657.3l7.6,5.4M926.9,659.1l3.8,2.7M939.5,669.2L962.7,656.6M962.7,656.6l7.6,5.4M959.4,658.4l7.6,5.4M956.0,660.2l7.6,5.4M965.3,672.2L988.5,659.5M988.5,659.5l7.6,5.4M985.1,661.4l7.6,5.4M981.8,663.2l7.6,5.4M978.5,665.0l3.8,2.7M991.1,675.2L1014.2,662.5M1014.2,662.5l7.6,5.4M1010.9,664.3l7.6,5.4M1007.6,666.2l7.6,5.4M1004.2,668.0l3.8,2.7M90.3,615.7L103.1,592.6M103.1,592.6l9.3,0.5M101.2,595.9l4.6,0.2M117.6,618.6L127.5,594.1M127.5,594.1l9.3,-0.6M143.4,620.8L153.3,596.3M153.3,596.3l9.3,-0.6M166.4,621.5L181.9,600.1M181.9,600.1l9.2,1.6M179.7,603.2l4.6,0.8M192.6,624.0L207.5,602.2M207.5,602.2l9.2,1.4M219.0,626.6L232.7,604.1M232.7,604.1l9.3,0.9M230.8,607.3l4.6,0.4M245.7,629.5L257.7,605.9M257.7,605.9l9.3,0.2M256.0,609.3l4.6,0.1M274.5,632.9L280.6,607.2M280.6,607.2l9.1,-2.0M302.6,635.6L304.1,609.2M303.9,613.0l4.3,-1.8M330.0,637.9L328.4,611.6M328.4,611.6l8.1,-4.6M353.5,640.3L356.5,614.1M356.1,617.8l4.4,-1.5M376.4,642.0L385.3,617.2M385.3,617.2l9.2,-1.0M398.5,642.5L414.7,621.6M414.7,621.6l9.1,1.9M412.4,624.6l9.1,1.9M410.1,627.6l4.6,1.0M422.7,643.5L442.2,625.6M442.2,625.6l8.7,3.4M439.4,628.1l8.7,3.4M436.6,630.7l8.7,3.4M449.3,646.7L467.2,627.3M467.2,627.3l8.9,2.7M464.6,630.1l8.9,2.7M462.1,632.9l8.9,2.7M459.5,635.7l4.5,1.3M472.8,646.3L495.4,632.7M495.4,632.7l7.8,5.1M492.1,634.7l7.8,5.1M488.9,636.6l7.8,5.1M485.6,638.6l7.8,5.1M498.1,648.0L521.7,636.2M521.7,636.2l7.4,5.6M518.3,637.9l7.4,5.6M514.9,639.6l7.4,5.6M511.5,641.3l7.4,5.6M525.0,652.4L546.4,636.9M546.4,636.9l8.2,4.4M543.3,639.1l8.2,4.4M540.2,641.4l8.2,4.4M537.1,643.6l8.2,4.4M550.0,653.7L573.0,640.7M573.0,640.7l7.7,5.3M569.7,642.6l7.7,5.3M566.4,644.5l7.7,5.3M563.0,646.3l7.7,5.3M575.4,655.7L599.1,644.0M599.1,644.0l7.4,5.7M595.7,645.7l7.4,5.7M592.3,647.4l7.4,5.7M588.9,649.0l7.4,5.7M601.8,659.3L624.4,645.6M624.4,645.6l7.8,5.0M621.1,647.6l7.8,5.0M617.9,649.6l7.8,5.0M614.6,651.5l7.8,5.0M627.3,661.5L650.4,648.7M650.4,648.7l7.6,5.3M647.1,650.6l7.6,5.3M643.8,652.4l7.6,5.3M640.4,654.3l3.8,2.7M652.9,663.8L676.4,651.8M676.4,651.8l7.4,5.6M673.0,653.5l7.4,5.6M669.6,655.3l7.4,5.6M678.9,666.9L702.0,654.1M702.0,654.1l7.6,5.4M698.7,656.0l7.6,5.4M695.3,657.8l7.6,5.4M692.0,659.6l3.8,2.7M704.7,669.6L727.8,656.9M727.8,656.9l7.6,5.4M724.5,658.7l7.6,5.4M721.1,660.5l7.6,5.4M717.8,662.4l7.6,5.4M730.4,672.3L753.6,659.7M753.6,659.7l7.6,5.4M750.3,661.5l7.6,5.4M746.9,663.3l7.6,5.4M756.2,675.1L779.3,662.4M779.3,662.4l7.6,5.4M776.0,664.2l7.6,5.4M772.7,666.0l7.6,5.4M769.4,667.9l3.8,2.7M781.9,677.7L805.2,665.3M805.2,665.3l7.5,5.5M801.9,667.1l7.5,5.5M798.5,668.9l7.5,5.5M807.7,680.6L830.9,668.1M830.9,668.1l7.5,5.4M827.6,669.9l7.5,5.4M824.3,671.7l3.8,2.7M833.4,683.4L856.8,671.0M856.8,671.0l7.5,5.5M853.4,672.8l7.5,5.5M850.0,674.6l3.8,2.7M859.1,686.1L882.6,674.0M882.6,674.0l7.5,5.5M879.2,675.7l7.5,5.5M875.8,677.5l7.5,5.5M885.0,689.2L908.2,676.7M908.2,676.7l7.6,5.4M904.9,678.5l7.6,5.4M901.5,680.3l7.6,5.4M898.2,682.1l3.8,2.7M910.6,691.9L934.1,679.8M934.1,679.8l7.4,5.6M930.7,681.5l7.4,5.6M927.4,683.3l7.4,5.6M936.4,694.9L959.8,682.6M959.8,682.6l7.5,5.5M956.5,684.4l7.5,5.5M953.1,686.2l7.5,5.5M949.7,687.9l3.7,2.8M962.3,698.0L985.5,685.5M985.5,685.5l7.5,5.4M982.2,687.3l7.5,5.4M978.8,689.1l7.5,5.4M975.5,690.9l3.8,2.7M988.0,700.9L1011.3,688.5M1011.3,688.5l7.5,5.4M1007.9,690.3l7.5,5.4M1004.6,692.1l7.5,5.4M1013.9,704.2L1036.8,691.1M1033.6,693.0l3.8,2.6M113.7,643.8L126.9,620.9M126.9,620.9l9.3,0.6M125.0,624.2l4.6,0.3M139.4,645.9L152.9,623.2M152.9,623.2l9.3,0.8M150.9,626.5l4.6,0.4M164.7,647.8L179.2,625.7M177.1,628.9l4.6,0.6M190.5,650.0L205.1,628.0M205.1,628.0l9.2,1.2M216.2,652.3L231.0,630.4M231.0,630.4l9.2,1.3M228.8,633.5l4.6,0.7M241.0,653.8L257.8,633.4M257.8,633.4l9.0,2.2M255.4,636.4l9.0,2.2M268.7,657.4L281.7,634.5M281.7,634.5l9.3,0.6M279.8,637.8l4.6,0.3M296.6,660.8L305.4,635.9M305.4,635.9l9.2,-1.1M324.8,663.7L328.8,637.7M328.2,641.4l4.4,-1.4M349.8,666.0L355.4,640.2M355.4,640.2l9.0,-2.2M372.8,667.5L384.0,643.6M384.0,643.6l9.3,-0.2M382.4,647.0l4.6,-0.1M396.5,668.7L411.9,647.2M411.9,647.2l9.2,1.6M409.7,650.3l9.2,1.6M407.4,653.4l4.6,0.8M421.8,670.8L438.1,650.1M438.1,650.1l9.1,2.0M435.8,653.1l9.1,2.0M433.4,656.0l9.1,2.0M431.1,659.0l4.5,1.0M446.9,672.8L464.6,653.1M464.6,653.1l8.9,2.5M462.0,655.9l8.9,2.5M459.5,658.8l8.9,2.5M457.0,661.6l4.5,1.3M471.3,673.8L491.7,657.1M491.7,657.1l8.5,3.9M488.8,659.5l8.5,3.9M485.9,661.9l8.5,3.9M482.9,664.3l8.5,3.9M496.5,675.6L518.1,660.4M518.1,660.4l8.1,4.5M515.0,662.6l8.1,4.5M511.9,664.8l8.1,4.5M508.8,666.9l8.1,4.5M522.5,678.4L543.7,662.7M543.7,662.7l8.3,4.3M540.6,664.9l8.3,4.3M537.6,667.2l8.3,4.3M534.5,669.5l8.3,4.3M547.9,680.4L569.9,665.8M569.9,665.8l8.0,4.7M566.7,667.9l8.0,4.7M563.5,670.0l8.0,4.7M560.4,672.1l8.0,4.7M573.3,682.6L595.9,668.9M595.9,668.9l7.8,5.0M592.7,670.9l7.8,5.0M589.4,672.8l7.8,5.0M586.2,674.8l7.8,5.0M599.2,685.3L621.6,671.4M621.6,671.4l7.9,5.0M618.4,673.4l7.9,5.0M615.2,675.4l7.9,5.0M611.9,677.4l7.9,5.0M624.8,687.6L647.6,674.4M647.6,674.4l7.7,5.2M644.3,676.3l7.7,5.2M641.0,678.2l7.7,5.2M637.7,680.1l3.9,2.6M650.3,689.9L673.6,677.5M673.6,677.5l7.5,5.5M670.2,679.3l7.5,5.5M666.9,681.1l7.5,5.5M675.9,692.3L699.5,680.5M699.5,680.5l7.4,5.6M696.1,682.2l7.4,5.6M692.7,683.9l7.4,5.6M701.7,695.0L725.3,683.2M725.3,683.2l7.4,5.7M721.9,684.9l7.4,5.7M718.5,686.6l7.4,5.7M727.5,697.8L751.0,685.8M751.0,685.8l7.4,5.6M747.6,687.6l7.4,5.6M744.2,689.3l7.4,5.6M753.3,700.8L776.6,688.4M776.6,688.4l7.5,5.4M773.3,690.2l7.5,5.4M769.9,692.0l7.5,5.4M766.6,693.7l7.5,5.4M779.0,703.4L802.4,691.3M802.4,691.3l7.5,5.6M799.1,693.1l7.5,5.6M795.7,694.8l7.5,5.6M792.3,696.6l3.7,2.8M804.8,706.3L828.1,694.0M828.1,694.0l7.5,5.5M824.8,695.8l7.5,5.5M821.4,697.6l7.5,5.5M818.1,699.4l3.8,2.7M830.5,709.2L853.9,696.9M853.9,696.9l7.5,5.5M850.5,698.6l7.5,5.5M847.2,700.4l7.5,5.5M856.3,712.0L879.7,699.8M879.7,699.8l7.5,5.5M876.3,701.5l7.5,5.5M872.9,703.3l7.5,5.5M882.1,715.0L905.3,702.5M905.3,702.5l7.5,5.4M902.0,704.3l7.5,5.4M898.6,706.1l7.5,5.4M895.3,707.9l7.5,5.4M907.8,717.9L931.1,705.5M931.1,705.5l7.5,5.5M927.7,707.3l7.5,5.5M924.4,709.0l7.5,5.5M921.0,710.8l7.5,5.5M933.5,720.8L956.8,708.4M956.8,708.4l7.5,5.5M953.5,710.2l7.5,5.5M950.1,712.0l7.5,5.5M946.8,713.7l3.8,2.7M959.3,723.9L982.5,711.2M982.5,711.2l7.6,5.4M979.1,713.0l7.6,5.4M975.8,714.8l7.6,5.4M972.5,716.7l3.8,2.7M985.1,726.9L1008.1,714.1M1008.1,714.1l7.6,5.3M1004.8,715.9l7.6,5.3M1001.5,717.8l7.6,5.3M1011.0,730.2L1033.7,716.8M1033.7,716.8l7.8,5.1M1030.4,718.7l7.8,5.1M1027.2,720.7l7.8,5.1M1023.9,722.6l3.9,2.6M111.5,669.7L124.7,646.8M124.7,646.8l9.3,0.6M137.1,671.8L150.7,649.2M150.7,649.2l9.3,0.8M162.1,673.5L177.3,651.9M175.1,655.0l4.6,0.7M187.0,675.1L204.0,654.8M204.0,654.8l9.0,2.2M213.3,677.7L229.3,656.8M229.3,656.8l9.1,1.8M238.3,679.4L255.9,659.7M255.9,659.7l8.9,2.5M253.3,662.6l8.9,2.5M263.0,680.7L282.7,663.1M282.7,663.1l8.6,3.5M279.9,665.6l4.3,1.8M288.6,682.9L308.6,665.6M308.6,665.6l8.5,3.7M305.8,668.1l4.3,1.8M316.6,687.2L332.3,666.0M332.3,666.0l9.1,1.7M342.5,689.8L357.8,668.3M357.8,668.3l9.2,1.5M367.7,691.8L384.2,671.1M384.2,671.1l9.1,2.0M381.8,674.1l9.1,2.0M392.7,693.5L410.7,674.2M410.7,674.2l8.9,2.7M408.1,677.0l8.9,2.7M405.5,679.8l4.4,1.4M417.6,695.1L437.3,677.5M437.3,677.5l8.6,3.5M434.5,680.1l8.6,3.5M431.7,682.6l8.6,3.5M443.9,698.2L462.6,679.5M462.6,679.5l8.8,3.0M459.9,682.2l8.8,3.0M457.2,684.9l8.8,3.0M468.4,699.2L489.6,683.4M489.6,683.4l8.3,4.2M486.5,685.7l8.3,4.2M483.5,688.0l8.3,4.2M480.4,690.3l8.3,4.2M493.2,700.3L516.3,687.4M516.3,687.4l7.6,5.3M513.0,689.3l7.6,5.3M509.7,691.1l7.6,5.3M506.3,693.0l7.6,5.3M519.6,703.8L541.5,689.0M541.5,689.0l8.1,4.7M538.3,691.2l8.1,4.7M535.2,693.3l8.1,4.7M532.0,695.4l8.1,4.7M544.9,705.8L567.6,692.2M567.6,692.2l7.8,5.1M564.3,694.2l7.8,5.1M561.1,696.1l7.8,5.1M557.8,698.1l7.8,5.1M570.1,707.3L593.9,695.9M593.9,695.9l7.3,5.8M590.5,697.5l7.3,5.8M587.1,699.2l7.3,5.8M583.6,700.8l7.3,5.8M596.3,710.7L619.2,697.7M619.2,697.7l7.7,5.3M615.9,699.6l7.7,5.3M612.6,701.5l7.7,5.3M609.3,703.3l7.7,5.3M621.9,713.2L645.1,700.5M645.1,700.5l7.6,5.4M641.8,702.4l7.6,5.4M638.4,704.2l7.6,5.4M635.1,706.0l3.8,2.7M647.3,715.1L671.2,704.0M671.2,704.0l7.2,5.9M667.8,705.6l7.2,5.9M664.3,707.2l7.2,5.9M673.2,718.1L696.8,706.4M696.8,706.4l7.4,5.7M693.4,708.0l7.4,5.7M690.0,709.7l7.4,5.7M698.9,720.8L722.5,709.0M722.5,709.0l7.4,5.7M719.1,710.7l7.4,5.7M715.7,712.4l7.4,5.7M724.8,723.8L748.1,711.5M748.1,711.5l7.5,5.5M744.8,713.3l7.5,5.5M741.4,715.1l3.8,2.7M750.6,726.7L773.8,714.2M773.8,714.2l7.6,5.4M770.5,716.0l7.6,5.4M767.1,717.8l7.6,5.4M763.8,719.6l3.8,2.7M776.2,729.4L799.6,717.0M799.6,717.0l7.5,5.5M796.2,718.8l7.5,5.5M792.8,720.6l7.5,5.5M789.5,722.4l7.5,5.5M801.9,732.2L825.3,719.9M825.3,719.9l7.5,5.5M821.9,721.6l7.5,5.5M818.6,723.4l7.5,5.5M815.2,725.2l7.5,5.5M827.7,735.0L851.0,722.7M851.0,722.7l7.5,5.5M847.7,724.5l7.5,5.5M844.3,726.2l7.5,5.5M840.9,728.0l3.8,2.7M853.3,737.7L876.8,725.7M876.8,725.7l7.4,5.6M873.4,727.4l7.4,5.6M870.0,729.2l7.4,5.6M866.7,730.9l7.4,5.6M879.1,740.8L902.4,728.4M902.4,728.4l7.5,5.5M899.1,730.2l7.5,5.5M895.7,731.9l7.5,5.5M892.4,733.7l7.5,5.5M904.7,743.5L928.2,731.5M928.2,731.5l7.4,5.6M924.9,733.2l7.4,5.6M921.5,734.9l7.4,5.6M918.1,736.6l7.4,5.6M930.4,746.3L954.0,734.5M954.0,734.5l7.4,5.6M950.6,736.2l7.4,5.6M947.2,737.9l7.4,5.6M943.8,739.6l7.4,5.6M956.3,749.7L979.5,737.0M979.5,737.0l7.6,5.4M976.1,738.8l7.6,5.4M972.8,740.6l7.6,5.4M982.2,752.9L1005.0,739.7M1005.0,739.7l7.7,5.2M1001.7,741.6l7.7,5.2M998.4,743.5l7.7,5.2M1008.1,756.2L1030.6,742.4M1030.6,742.4l7.8,5.0M1027.3,744.4l7.8,5.0M1024.1,746.4l7.8,5.0M1020.8,748.3l3.9,2.5M109.1,695.5L122.8,672.9M122.8,672.9l9.3,0.8M120.8,676.2l4.6,0.4M134.3,697.4L149.1,675.5M147.0,678.6l4.6,0.7M159.7,699.3L175.2,678.0M173.0,681.0l4.6,0.8M184.3,700.6L202.2,681.2M199.6,684.0l4.5,1.3M210.2,703.0L227.9,683.4M225.3,686.2l4.5,1.3M235.0,704.3L254.6,686.6M254.6,686.6l8.6,3.5M251.7,689.2l4.3,1.7M261.0,706.9L280.1,688.7M280.1,688.7l8.7,3.2M277.3,691.3l4.4,1.6M286.2,708.6L306.4,691.7M306.4,691.7l8.5,3.8M303.5,694.1l8.5,3.8M311.2,710.1L332.8,694.9M332.8,694.9l8.1,4.5M329.7,697.1l4.1,2.2M337.1,712.6L358.5,697.2M358.5,697.2l8.2,4.4M355.4,699.4l4.1,2.2M362.8,715.0L384.3,699.6M384.3,699.6l8.2,4.4M381.2,701.8l8.2,4.4M389.2,718.3L409.3,701.2M409.3,701.2l8.5,3.7M406.4,703.7l8.5,3.7M414.8,720.6L435.2,703.8M435.2,703.8l8.5,3.8M432.3,706.2l8.5,3.8M441.0,723.6L460.5,705.8M460.5,705.8l8.6,3.5M457.7,708.4l8.6,3.5M454.9,710.9l8.6,3.5M465.5,724.6L487.4,709.8M487.4,709.8l8.1,4.7M484.3,711.9l8.1,4.7M481.1,714.1l8.1,4.7M478.0,716.2l4.0,2.3M490.4,725.5L514.1,713.9M514.1,713.9l7.3,5.7M510.7,715.6l7.3,5.7M507.2,717.3l7.3,5.7M503.8,718.9l7.3,5.7M516.7,729.2L539.2,715.3M539.2,715.3l7.9,5.0M535.9,717.3l7.9,5.0M532.7,719.3l7.9,5.0M529.5,721.3l7.9,5.0M542.4,731.7L564.9,718.0M564.9,718.0l7.8,5.0M561.7,720.0l7.8,5.0M558.5,721.9l7.8,5.0M555.2,723.9l7.8,5.0M567.7,733.5L591.1,721.4M591.1,721.4l7.5,5.6M587.7,723.1l7.5,5.6M584.4,724.9l7.5,5.6M581.0,726.6l7.5,5.6M593.6,736.5L616.6,723.6M616.6,723.6l7.6,5.3M613.3,725.5l7.6,5.3M610.0,727.3l7.6,5.3M606.7,729.2l7.6,5.3M619.2,739.0L642.4,726.4M642.4,726.4l7.6,5.4M639.1,728.2l7.6,5.4M635.8,730.0l7.6,5.4M632.4,731.8l3.8,2.7M644.9,741.5L668.2,729.2M668.2,729.2l7.5,5.5M664.9,731.0l7.5,5.5M661.5,732.8l7.5,5.5M658.1,734.5l3.7,2.8M670.5,744.1L694.0,732.0M694.0,732.0l7.5,5.5M690.6,733.7l7.5,5.5M687.2,735.5l7.5,5.5M683.9,737.2l3.7,2.8M696.2,746.7L719.8,734.8M719.8,734.8l7.4,5.6M716.4,736.5l7.4,5.6M713.0,738.2l7.4,5.6M709.6,740.0l3.7,2.8M721.8,749.3L745.5,737.7M745.5,737.7l7.3,5.7M742.1,739.3l7.3,5.7M738.7,741.0l7.3,5.7M735.3,742.7l3.7,2.8M747.6,752.3L771.1,740.2M771.1,740.2l7.4,5.6M767.7,742.0l7.4,5.6M764.4,743.7l7.4,5.6M761.0,745.4l7.4,5.6M773.3,754.9L796.9,743.1M796.9,743.1l7.4,5.6M793.5,744.8l7.4,5.6M790.1,746.5l7.4,5.6M786.7,748.2l7.4,5.6M798.9,757.7L822.6,746.0M822.6,746.0l7.4,5.7M819.2,747.7l7.4,5.7M815.8,749.3l7.4,5.7M812.4,751.0l7.4,5.7M824.7,760.7L848.2,748.6M848.2,748.6l7.5,5.6M844.8,750.3l7.5,5.6M841.4,752.1l7.5,5.6M838.1,753.8l7.5,5.6M850.3,763.3L874.0,751.7M874.0,751.7l7.3,5.7M870.6,753.4l7.3,5.7M867.2,755.0l7.3,5.7M863.8,756.7l7.3,5.7M876.2,766.5L899.5,754.2M899.5,754.2l7.5,5.5M896.2,756.0l7.5,5.5M892.8,757.7l7.5,5.5M889.4,759.5l7.5,5.5M901.8,769.3L925.3,757.2M925.3,757.2l7.4,5.6M921.9,759.0l7.4,5.6M918.5,760.7l7.4,5.6M915.1,762.4l7.4,5.6M927.4,772.1L951.0,760.2M951.0,760.2l7.4,5.6M947.6,761.9l7.4,5.6M944.2,763.6l7.4,5.6M940.8,765.4l7.4,5.6M953.4,775.5L976.5,762.7M976.5,762.7l7.6,5.3M973.1,764.5l7.6,5.3M969.8,766.4l7.6,5.3M966.5,768.2l3.8,2.7M979.3,778.9L1001.9,765.3M1001.9,765.3l7.8,5.1M998.6,767.2l7.8,5.1M995.4,769.2l7.8,5.1M992.1,771.1l3.9,2.5M1005.1,782.1L1027.4,768.0M1027.4,768.0l7.9,4.9M1024.2,770.0l7.9,4.9M1021.0,772.0l7.9,4.9M1017.8,774.1l4.0,2.4M105.7,720.6L121.8,699.7M119.5,702.7l4.6,0.9M131.4,722.7L147.6,701.9M145.3,704.9l4.5,1.0M156.7,724.7L173.8,704.5M171.3,707.4l4.5,1.1M182.1,726.6L199.9,707.0M197.3,709.8l4.5,1.3M207.4,728.4L226.1,709.8M223.4,712.5l4.4,1.5M232.7,730.2L252.3,712.5M249.5,715.1l4.3,1.7M258.1,732.2L278.3,715.1M278.3,715.1l8.5,3.7M282.7,733.0L305.1,719.0M305.1,719.0l7.9,4.9M301.9,721.0l3.9,2.5M309.2,736.4L330.1,720.3M330.1,720.3l8.3,4.1M327.1,722.7l4.2,2.1M334.0,737.4L356.8,724.2M356.8,724.2l7.7,5.2M353.5,726.1l7.7,5.2M360.4,740.8L381.8,725.5M381.8,725.5l8.2,4.4M378.8,727.7l8.2,4.4M386.4,743.8L407.2,727.5M407.2,727.5l8.4,4.1M404.2,729.8l8.4,4.1M411.8,745.8L433.2,730.3M433.2,730.3l8.2,4.4M430.1,732.6l8.2,4.4M437.9,748.8L458.5,732.3M458.5,732.3l8.4,4.0M455.6,734.7l8.4,4.0M452.6,737.0l4.2,2.0M463.6,751.2L484.4,734.9M484.4,734.9l8.4,4.1M481.4,737.3l8.4,4.1M478.4,739.6l8.4,4.1M488.3,752.3L511.0,738.8M511.0,738.8l7.8,5.1M507.7,740.7l7.8,5.1M504.5,742.7l7.8,5.1M501.2,744.6l3.9,2.5M513.6,754.0L537.2,742.2M537.2,742.2l7.4,5.7M533.8,743.9l7.4,5.7M530.4,745.6l7.4,5.7M527.0,747.3l7.4,5.7M539.8,757.6L562.3,743.7M562.3,743.7l7.9,5.0M559.1,745.7l7.9,5.0M555.8,747.7l7.9,5.0M552.6,749.7l7.9,5.0M565.6,760.2L588.0,746.3M588.0,746.3l7.9,4.9M584.8,748.3l7.9,4.9M581.5,750.3l7.9,4.9M578.3,752.3l7.9,4.9M590.7,761.9L614.2,749.9M614.2,749.9l7.4,5.6M610.8,751.6l7.4,5.6M607.5,753.3l7.4,5.6M604.1,755.1l7.4,5.6M616.2,764.2L640.1,752.9M640.1,752.9l7.3,5.8M636.7,754.5l7.3,5.8M633.2,756.1l7.3,5.8M629.8,757.7l7.3,5.8M642.3,767.5L665.4,754.8M665.4,754.8l7.6,5.4M662.1,756.6l7.6,5.4M658.8,758.5l7.6,5.4M655.4,760.3l3.8,2.7M667.8,769.8L691.3,757.9M691.3,757.9l7.4,5.6M687.9,759.6l7.4,5.6M684.5,761.3l7.4,5.6M681.1,763.0l3.7,2.8M693.3,772.2L717.2,760.9M717.2,760.9l7.3,5.8M713.7,762.6l7.3,5.8M710.3,764.2l7.3,5.8M706.9,765.8l3.6,2.9M719.2,775.3L742.7,763.3M742.7,763.3l7.4,5.6M739.3,765.0l7.4,5.6M735.9,766.7l7.4,5.6M732.5,768.5l7.4,5.6M744.9,778.2L768.2,765.8M768.2,765.8l7.5,5.5M764.9,767.6l7.5,5.5M761.5,769.4l7.5,5.5M758.2,771.2l7.5,5.5M770.6,781.1L793.9,768.6M793.9,768.6l7.5,5.4M790.5,770.4l7.5,5.4M787.2,772.2l7.5,5.4M783.8,774.0l7.5,5.4M796.3,783.8L819.6,771.4M819.6,771.4l7.5,5.5M102.3,745.4L120.9,726.7M118.2,729.4l4.4,1.5M128.3,747.9L146.3,728.6M146.3,728.6l8.9,2.7M153.8,749.8L172.3,731.0M169.6,733.7l4.4,1.5M179.5,752.1L198.0,733.3M195.3,736.0l4.4,1.5M204.9,754.0L224.1,735.9M221.3,738.5l4.4,1.6M230.0,755.7L250.3,738.8M247.4,741.2l4.2,1.9M254.8,756.7L277.0,742.4M277.0,742.4l8.0,4.8M281.0,759.8L302.1,744.0M302.1,744.0l8.3,4.2M299.1,746.2l8.3,4.2M307.2,762.8L327.3,745.7M327.3,745.7l8.5,3.7M324.5,748.2l8.5,3.7M332.5,764.7L353.4,748.5M353.4,748.5l8.3,4.1M350.4,750.9l8.3,4.1M357.4,765.9L380.0,752.2M380.0,752.2l7.8,5.0M376.7,754.1l7.8,5.0M383.6,769.1L405.1,753.8M405.1,753.8l8.2,4.4M402.0,756.0l4.1,2.2M409.0,771.1L431.1,756.7M431.1,756.7l8.0,4.8M428.0,758.8l8.0,4.8M435.2,774.3L456.3,758.4M456.3,758.4l8.3,4.2M453.3,760.7l8.3,4.2M461.2,777.2L481.6,760.5M481.6,760.5l8.5,3.9M478.7,762.9l8.5,3.9M475.8,765.3l8.5,3.9M485.9,778.3L508.4,764.5M508.4,764.5l7.9,5.0M505.1,766.5l7.9,5.0M501.9,768.5l7.9,5.0M498.7,770.4l3.9,2.5M511.0,779.9L534.6,768.0M534.6,768.0l7.4,5.6M531.2,769.7l7.4,5.6M527.8,771.4l7.4,5.6M537.3,783.6L559.6,769.4M559.6,769.4l7.9,4.9M556.4,771.5l7.9,4.9M553.2,773.5l7.9,4.9M550.0,775.5l7.9,4.9M100.2,771.3L118.7,752.5M116.0,755.2l4.4,1.5M124.4,771.8L145.8,756.3M142.7,758.6l4.1,2.2M151.5,775.7L170.1,756.9M170.1,756.9l8.8,3.0M177.6,778.3L195.4,758.8M195.4,758.8l8.9,2.6M203.2,780.5L221.2,761.2M218.6,763.9l4.4,1.4M228.5,782.3L247.3,763.8M244.6,766.5l4.4,1.6M253.6,784.0L273.5,766.8M273.5,766.8l8.6,3.6M279.4,786.6L299.0,768.9M296.2,771.4l4.3,1.7"/>
<path fill="none" stroke="#000" stroke-width="2" stroke-linejoin="round" d="M96.0,279.2L112.5,283.3L126.3,282.0L129.1,271.0L137.3,259.9L151.1,243.4L162.1,226.8L164.9,213.1L181.4,199.3L206.2,193.8L214.5,182.8L222.8,188.3L236.5,196.5L242.0,196.5L255.8,182.8L283.4,180.0L297.2,188.3L305.4,191.0L333.0,192.4L338.5,199.3L355.0,200.7L382.6,196.5L393.6,200.7L406.0,186.0L417.0,173.1L430.8,188.3L439.1,182.8L444.6,171.7L447.3,111.1L452.8,107.0L463.9,102.8L505.2,102.8L516.2,105.6L543.8,111.1L557.6,113.9L582.4,112.5L596.1,107.0L598.9,91.8L604.4,86.3L618.2,78.0L632.0,76.7L637.5,91.8L645.7,80.8L654.0,78.0L670.5,75.3L684.3,76.7L700.8,75.3L716.0,82.2L733.9,89.0L740.8,78.0L749.1,73.9L758.7,75.3L768.3,76.7L778.0,78.0L782.1,75.3L787.6,67.0L793.1,62.9L806.9,60.1L820.7,56.0M840.0,55.0L846.9,60.1L853.7,57.4L867.5,55.0M733.9,89.0L733.9,97.3L736.7,111.1L743.5,115.2L758.7,116.6L764.2,122.1L765.6,129.0L760.1,134.5L758.7,144.2L762.8,152.4L767.0,159.3L768.3,169.0L775.2,171.7L779.4,176.0L784.9,182.9L790.4,189.8L795.9,193.9L805.5,198.0L812.4,199.4L820.7,206.3L828.9,210.4L833.7,216.5L843.9,217.7L851.5,206.3L856.5,205.1L866.7,215.2L870.5,225.3L871.7,232.9L881.9,243.1L892.0,250.7L897.1,253.2L894.5,265.9L892.0,276.0L889.5,286.1L886.9,291.2L881.9,288.7L879.3,296.3L874.3,301.3L866.7,303.9L861.6,308.9L851.5,321.6L841.3,331.7L826.1,336.8L816.0,341.9L811.5,349.5M1025.0,273.5L1008.6,276.0L998.4,278.5L988.3,283.6L978.2,288.7L968.0,296.3L965.5,306.4L968.0,311.5L963.0,316.5L963.0,324.1L970.6,329.2L963.0,331.7L947.8,341.9L932.6,352.0L912.3,364.7L892.0,374.8L876.8,377.3L859.1,372.3L841.3,362.1L823.6,354.5L810.9,349.5L790.7,357.1L772.9,359.6L760.3,372.3L757.7,397.6L765.3,407.8L779.4,416.0L784.9,422.9L786.2,429.8L790.4,432.5L793.1,436.7L798.6,439.4L802.8,447.7L812.4,449.1L820.7,449.1L824.8,453.2L831.7,457.3L830.3,460.1L824.8,462.8L815.2,464.2L804.2,464.2L800.0,468.3L798.6,478.0L801.4,490.4L806.9,498.6L809.7,504.2L812.4,509.7L819.3,516.6L826.2,522.1L840.0,524.8L853.7,524.8L860.7,521.3M860.7,521.3L862.0,507.6L858.7,496.5L860.7,492.4L864.8,504.8L870.3,518.6L881.3,529.6L903.4,535.1L919.9,543.4L933.7,551.6L944.7,565.4L953.0,582.0L964.0,590.2L975.0,598.5L987.4,609.5L991.6,628.8L980.5,631.6L966.8,637.1L958.5,639.8L953.0,628.8L950.2,617.8L936.4,609.5L930.9,598.5L925.4,584.7L914.4,568.2L903.4,565.4L881.3,562.7L867.6,557.2L862.0,551.6L860.7,521.3M862.0,551.6L856.5,546.1L848.3,537.9L837.2,532.4L826.2,529.6L809.7,529.6L795.9,532.4L782.1,540.6L771.1,537.9L762.8,546.1L757.3,562.7L760.1,573.7L768.4,584.7L773.9,590.2L779.4,595.7L787.6,606.8L798.7,609.5L812.4,615.0L826.2,620.5L840.0,626.0L851.0,634.3L856.5,645.3L859.3,661.9L862.0,665.6L860.6,669.8L864.8,675.3L863.4,683.5L860.6,690.4L857.9,696.0L852.4,701.5L855.1,705.6L853.7,708.3L848.2,711.1L840.0,715.2L834.5,712.5L831.7,707.0L827.6,701.5L824.8,694.6L817.9,690.4L812.4,683.5L804.2,680.8L800.0,686.3L798.6,678.0L794.5,669.8L790.4,662.9L787.6,656.0L790.4,645.3L782.1,634.3L771.1,620.5L760.1,606.8L751.8,595.7L743.6,593.0L732.5,590.2L716.0,589.7L705.6,587.0L696.0,580.1L685.0,576.0L671.2,571.8L660.2,569.1L650.5,573.2L643.6,580.1L638.1,591.1L636.8,602.1L640.9,613.1L647.8,625.5L657.4,631.0L665.7,639.3L671.2,649.0L675.3,656.0L680.8,667.0L693.2,676.7L707.0,683.5L716.0,687.7L729.8,693.2L743.5,697.3L749.0,701.5L753.2,707.0L756.0,715.2L760.1,719.4L768.3,720.7L776.6,719.4L780.7,722.1L778.0,726.2L768.3,727.6L757.3,726.2L743.5,724.9L729.8,723.5L716.0,719.4L705.6,713.9L691.9,705.6L678.1,702.8L665.7,707.0L654.7,707.0L646.4,709.7L649.2,701.5L653.3,691.8L651.9,683.5L643.6,672.5L639.5,662.9L629.9,656.0L629.9,646.2L632.6,632.4L634.0,621.4L635.4,607.6L631.2,595.2L625.7,589.7L616.1,585.6L602.3,581.5L588.5,576.0L574.8,567.7L561.0,560.8L549.3,552.5L535.5,544.3L525.8,536.0L520.3,530.3L510.7,524.8L499.7,524.8L491.4,526.2L494.2,520.7L485.9,509.7L483.1,504.2L481.8,498.6L480.4,490.4L474.9,484.9L468.0,483.5L466.7,480.0L467.7,473.5L469.5,469.8L480.5,471.6L494.3,470.7L509.0,467.0L518.2,461.5L520.9,455.1L517.2,448.7L509.9,443.2L506.2,437.6L509.0,433.1L510.8,425.7L509.9,417.4L506.2,411.9L496.1,413.8L490.6,410.1L481.4,413.8L472.2,416.5L470.4,415.6L472.2,418.4L479.6,423.0L479.6,430.3L474.1,434.9L464.9,440.4L460.3,444.1L453.0,445.0L443.8,446.8L441.9,451.4L443.8,456.9L442.9,462.4L440.4,464.2L437.7,469.7L433.5,471.1L429.4,468.3L426.7,462.8L419.8,460.1L412.9,462.8L414.3,468.3L418.4,476.6L414.3,479.4L411.5,484.9L406.1,483.1L402.0,482.1L397.9,480.0L391.7,486.2L390.6,490.3L394.8,495.5L396.8,500.7L397.9,511.0L398.9,521.3L404.0,525.5L412.3,529.6L414.4,533.7L410.2,542.0L404.0,552.3L398.9,562.6L395.8,570.0L390.7,593.1L379.6,615.1L379.6,637.2L383.3,646.4L390.7,670.3L396.2,685.0L406.0,696.0L414.3,698.7L419.8,701.5L426.7,708.3L432.2,716.6L432.2,724.9L433.5,733.1L440.4,745.5L447.3,749.7L454.2,755.2L461.1,763.4L466.6,769.0L476.2,776.0M126.3,282.0L129.0,290.0L137.3,296.0L138.7,298.8L133.2,304.3L129.1,308.4L118.0,312.5L107.0,312.5L101.5,312.5L97.4,315.3L98.8,322.2L105.6,334.6L107.0,348.3L113.9,353.9L123.5,355.2L126.3,364.9L123.5,367.6L131.8,378.6L137.3,385.5L142.8,384.2L148.3,389.7L158.0,392.4L163.5,395.2L163.5,406.2L158.0,411.7L156.6,416.0L156.6,431.2L164.9,439.4L167.6,443.5L160.7,449.1L162.1,456.0L170.4,465.6L171.8,478.0L175.9,482.1L185.5,483.5L195.2,490.4L202.1,497.3L204.8,501.4L217.2,500.0L229.6,504.2L228.2,515.2L226.9,526.2L235.1,531.7L240.6,536.0L236.5,548.4L240.6,555.3L251.0,560.8L257.9,563.5L260.6,567.7L255.1,577.3L251.0,588.3L240.6,596.6L233.7,599.4L229.6,604.9L233.7,613.1L226.9,618.6L224.1,629.7L217.2,637.9L206.2,654.5L200.7,662.9L195.2,667.0L192.4,672.5L184.2,678.0L181.4,683.5L180.0,691.8L173.1,697.3L166.2,698.7L162.1,708.3L153.9,711.1L149.7,709.7L151.1,713.9L159.4,718.0L164.9,723.5L164.9,731.8L163.5,735.9L166.2,741.4L167.6,752.4L166.2,757.9L159.4,755.2L153.9,752.4L140.1,751.0L135.9,746.9L126.3,757.9L115.3,753.8L109.8,746.9L102.9,745.5L96.0,751.0M233.7,607.0L251.0,607.6L264.8,610.4L268.9,615.9L259.3,624.2L264.8,635.2L267.5,646.2L275.8,643.4L285.4,625.5L292.3,615.9L300.6,613.1L308.9,618.6L311.6,624.2L310.2,632.4L317.1,631.0L317.1,646.2L312.0,656.0L311.6,662.9L317.1,665.6L319.9,671.2L328.1,671.2L330.9,673.9L337.8,673.9L347.4,680.8L357.1,686.3L358.4,694.6L361.2,704.2L365.3,709.7L372.2,712.5L381.9,711.1L395.6,709.7L402.5,704.2L406.0,700.0"/>
<circle cx="208.9" cy="339.8" r="2.9" fill="#000"/><circle cx="262.0" cy="464.9" r="2.9" fill="#000"/><circle cx="361.2" cy="572.9" r="2.9" fill="#000"/><circle cx="484.1" cy="258.4" r="2.9" fill="#000"/><circle cx="709.8" cy="215.0" r="2.9" fill="#000"/><circle cx="905.7" cy="188.0" r="2.9" fill="#000"/><circle cx="507.6" cy="411.5" r="2.9" fill="#000"/><circle cx="676.0" cy="529.2" r="2.9" fill="#000"/>
<g font-size="18" text-anchor="middle" fill="#000">
<text x="305.4" y="81.7">3</text>
<text x="180.0" y="145.1">4</text>
<text x="301.3" y="154.7">3</text>
<text x="366.1" y="187.8">4</text>
<text x="130.4" y="274.6">4</text>
<text x="243.4" y="282.8">4</text>
<text x="308.2" y="276.0">5</text>
<text x="470.8" y="163.0">3</text>
<text x="581.0" y="154.7">3</text>
<text x="651.2" y="87.2">2</text>
<text x="655.4" y="123.0">3</text>
<text x="575.5" y="248.4">4</text>
<text x="687.1" y="241.5">3</text>
<text x="462.5" y="270.4">4</text>
<text x="503.8" y="280.1">5</text>
<text x="760.1" y="147.8">4</text>
<text x="823.5" y="160.2">3</text>
<text x="940.6" y="113.4">4</text>
<text x="970.9" y="109.2">4</text>
<text x="936.4" y="219.5">4</text>
<text x="733.9" y="245.6">4</text>
<text x="271.0" y="390.6">3</text>
<text x="360.5" y="380.9">4</text>
<text x="400.5" y="420.9">3</text>
<text x="140.1" y="431.9">5</text>
<text x="137.3" y="484.3">5</text>
<text x="129.1" y="514.6">4</text>
<text x="260.0" y="493.9">4</text>
<text x="396.4" y="528.4">4</text>
<text x="634.7" y="379.6">5</text>
<text x="692.6" y="398.8">5</text>
<text x="451.5" y="442.9">6</text>
<text x="422.5" y="476.0">5</text>
<text x="531.4" y="466.4">7</text>
<text x="574.1" y="476.0">6</text>
<text x="488.7" y="516.0">7</text>
<text x="443.2" y="536.6">7</text>
<text x="906.1" y="305.2">4</text>
<text x="991.6" y="310.7">6</text>
<text x="833.1" y="317.6">5</text>
<text x="908.9" y="350.6">5</text>
<text x="958.5" y="353.4">7</text>
<text x="747.7" y="375.4">4</text>
<text x="826.2" y="375.4">6</text>
<text x="848.3" y="419.5">8</text>
<text x="1009.5" y="414.0">8</text>
<text x="818.0" y="447.1">7</text>
<text x="791.8" y="520.1">6</text>
<text x="885.5" y="510.4">8</text>
<text x="939.2" y="539.4">8</text>
<text x="229.6" y="575.5">5</text>
<text x="233.8" y="663.6">5</text>
<text x="141.5" y="682.9">4</text>
<text x="243.4" y="707.7">4</text>
<text x="301.3" y="651.2">4</text>
<text x="283.4" y="706.4">5</text>
<text x="379.8" y="662.3">5</text>
<text x="403.2" y="713.2">6</text>
<text x="415.6" y="587.9">6</text>
<text x="447.3" y="616.8">8</text>
<text x="474.9" y="636.1">9</text>
<text x="474.9" y="700.8">9</text>
<text x="443.2" y="727.0">7</text>
<text x="593.4" y="593.4">8</text>
<text x="640.2" y="582.4">7</text>
<text x="618.2" y="659.5">9</text>
<text x="707.7" y="643.0">9</text>
<text x="689.8" y="678.8">8</text>
<text x="707.7" y="736.7">8</text>
<text x="818.0" y="549.8">7</text>
<text x="826.2" y="607.6">8</text>
<text x="946.1" y="573.2">7</text>
<text x="929.6" y="625.6">8</text>
<text x="991.6" y="611.8">7</text>
<text x="765.6" y="649.0">8</text>
<text x="808.3" y="665.5">7</text>
<text x="775.2" y="598.4">7</text>
<text x="776.6" y="728.4">9</text>
<text x="864.8" y="732.5">9</text>
<text x="948.8" y="756.0">9</text>
</g>
<rect x="967.5" y="685.5" width="52.5" height="77.5" fill="#fff" stroke="#333" stroke-width="0.8"/>
<g font-size="12.3" text-anchor="middle" fill="#000"><text x="995.4" y="698">5 m/s</text><text x="993.9" y="711.9">10 knots</text></g>
<path d="M978.1,731.9L982.7,740.3L1009,740.3" fill="none" stroke="#555" stroke-width="0.9"/>
</g>
<rect x="96.5" y="55.2" width="927.8" height="721" fill="none" stroke="#000" stroke-width="1.2"/>
<path d="M75,106.5H96M75,252.5H96M75,398.8H96M75,545.0H96M75,690.5H96M195.0,776.5V797M361.5,776.5V797M527.0,776.5V797M693.0,776.5V797M858.7,776.5V797M1024.5,776.5V797" stroke="#000" stroke-width="1.2"/>
<g font-size="17.9" fill="#000" text-anchor="end">
<text x="63.5" y="113.0">41°20'N</text>
<text x="63.5" y="259.0">41°N</text>
<text x="63.5" y="405.3">40°40'N</text>
<text x="63.5" y="551.5">40°20'N</text>
<text x="63.5" y="697.0">40°N</text>
</g><g font-size="18.1" fill="#000" text-anchor="middle">
<text x="361.5" y="823.3">22°30'E</text>
<text x="527.0" y="823.3">23°E</text>
<text x="693.0" y="823.3">23°30'E</text>
<text x="858.7" y="823.3">24°E</text>
<text x="1024.5" y="823.3">24°30'E</text>
</g>
<rect x="1055.3" y="57.00" width="37" height="59.87" fill="#800026"/><rect x="1055.3" y="116.87" width="37" height="59.87" fill="#a0002b"/><rect x="1055.3" y="176.73" width="37" height="59.87" fill="#bd0026"/><rect x="1055.3" y="236.60" width="37" height="59.87" fill="#e1191d"/><rect x="1055.3" y="296.47" width="37" height="59.87" fill="#fc5a2d"/><rect x="1055.3" y="356.33" width="37" height="59.87" fill="#fd9641"/><rect x="1055.3" y="416.20" width="37" height="59.87" fill="#feb856"/><rect x="1055.3" y="476.07" width="37" height="59.87" fill="#fed474"/><rect x="1055.3" y="535.93" width="37" height="59.87" fill="#fee18e"/><rect x="1055.3" y="595.80" width="37" height="59.87" fill="#fff2b2"/><rect x="1055.3" y="655.67" width="37" height="59.87" fill="#fffbcc"/><rect x="1055.3" y="715.53" width="37" height="59.87" fill="#ffffff"/>
<path d="M1055.3,116.87H1092.3M1055.3,176.73H1092.3M1055.3,236.60H1092.3M1055.3,296.47H1092.3M1055.3,356.33H1092.3M1055.3,416.20H1092.3M1055.3,476.07H1092.3M1055.3,535.93H1092.3M1055.3,595.80H1092.3M1055.3,655.67H1092.3M1055.3,715.53H1092.3" stroke="#222" stroke-width="1"/>
<rect x="1055.3" y="57" width="37" height="718.40" fill="none" stroke="#555" stroke-width="0.8"/>
<g font-size="27.6" fill="#000">
<text x="1097" y="136.9">12</text>
<text x="1097" y="196.7">11</text>
<text x="1097" y="256.6">10</text>
<text x="1097" y="316.5">9</text>
<text x="1097" y="376.3">8</text>
<text x="1097" y="436.2">7</text>
<text x="1097" y="496.1">6</text>
<text x="1097" y="555.9">5</text>
<text x="1097" y="615.8">4</text>
<text x="1097" y="675.7">3</text>
<text x="1097" y="735.5">2</text>
</g>
<rect x="34" y="782" width="181" height="66" fill="#fff"/>
<path fill="#1414c8" d="M53.4,798.4H77L94.3,814.4L112.1,798.4H135.2V841.6H113.4V827.3L97.2,839.6Q94.3,841.8 91.4,839.6L75.7,827.3V841.6H53.4Z"/>
<circle cx="53.4" cy="798.4" r="14" fill="#fdd20a"/>
<g fill="#1818c6"><text x="146" y="812.9" font-size="20.2" font-family="DejaVu Sans, Liberation Sans, sans-serif">Meteo</text>
<text x="146.5" y="830.5" font-size="10.4" font-family="DejaVu Sans, Liberation Sans, sans-serif">Όλα για</text>
<text x="146.5" y="841.5" font-size="10.6" font-family="DejaVu Sans, Liberation Sans, sans-serif">τον καιρό</text></g>
<text x="599" y="866" font-size="19.7" fill="#000">National Observatory of Athens, Greece - meteo.gr</text>
</svg></body></html>
